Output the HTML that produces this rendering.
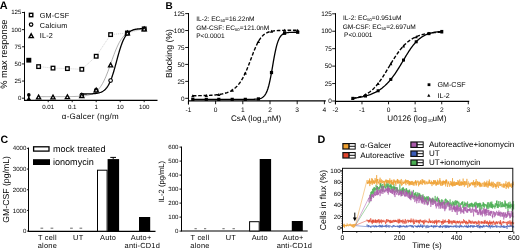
<!DOCTYPE html>
<html><head><meta charset="utf-8"><style>
html,body{margin:0;padding:0;background:#fff;}
svg{display:block;font-family:'Liberation Sans',sans-serif;will-change:transform;text-rendering:geometricPrecision;}
</style></head><body>
<svg width="520" height="250" viewBox="0 0 520 250">
<rect width="520" height="250" fill="#fff"/>
<text x="-0.30" y="9.00" font-size="10.9" text-anchor="start" font-weight="bold" fill="#000" >A</text>
<line x1="24.50" y1="11.80" x2="24.50" y2="101.00" stroke="#000" stroke-width="1.0" />
<line x1="22.00" y1="98.20" x2="24.50" y2="98.20" stroke="#000" stroke-width="0.9" />
<text x="21.40" y="100.10" font-size="6.1" text-anchor="end" font-weight="normal" fill="#000" >0</text>
<line x1="22.00" y1="81.06" x2="24.50" y2="81.06" stroke="#000" stroke-width="0.9" />
<text x="21.40" y="82.96" font-size="6.1" text-anchor="end" font-weight="normal" fill="#000" >25</text>
<line x1="22.00" y1="63.92" x2="24.50" y2="63.92" stroke="#000" stroke-width="0.9" />
<text x="21.40" y="65.82" font-size="6.1" text-anchor="end" font-weight="normal" fill="#000" >50</text>
<line x1="22.00" y1="46.78" x2="24.50" y2="46.78" stroke="#000" stroke-width="0.9" />
<text x="21.40" y="48.68" font-size="6.1" text-anchor="end" font-weight="normal" fill="#000" >75</text>
<line x1="22.00" y1="29.64" x2="24.50" y2="29.64" stroke="#000" stroke-width="0.9" />
<text x="21.40" y="31.54" font-size="6.1" text-anchor="end" font-weight="normal" fill="#000" >100</text>
<line x1="22.00" y1="12.50" x2="24.50" y2="12.50" stroke="#000" stroke-width="0.9" />
<text x="21.40" y="14.40" font-size="6.1" text-anchor="end" font-weight="normal" fill="#000" >125</text>
<line x1="24.00" y1="100.40" x2="157.50" y2="100.40" stroke="#000" stroke-width="1.2" />
<line x1="48.20" y1="100.00" x2="48.20" y2="102.20" stroke="#000" stroke-width="0.9" />
<text x="48.20" y="109.30" font-size="6.2" text-anchor="middle" font-weight="normal" fill="#000" >0.01</text>
<line x1="72.20" y1="100.00" x2="72.20" y2="102.20" stroke="#000" stroke-width="0.9" />
<text x="72.20" y="109.30" font-size="6.2" text-anchor="middle" font-weight="normal" fill="#000" >0.1</text>
<line x1="96.20" y1="100.00" x2="96.20" y2="102.20" stroke="#000" stroke-width="0.9" />
<text x="96.20" y="109.30" font-size="6.2" text-anchor="middle" font-weight="normal" fill="#000" >1</text>
<line x1="120.20" y1="100.00" x2="120.20" y2="102.20" stroke="#000" stroke-width="0.9" />
<text x="120.20" y="109.30" font-size="6.2" text-anchor="middle" font-weight="normal" fill="#000" >10</text>
<line x1="144.20" y1="100.00" x2="144.20" y2="102.20" stroke="#000" stroke-width="0.9" />
<text x="144.20" y="109.30" font-size="6.2" text-anchor="middle" font-weight="normal" fill="#000" >100</text>
<text x="61.80" y="119.20" font-size="8.0" text-anchor="start" font-weight="normal" fill="#000" letter-spacing="0.25">α-Galcer (ng/m</text>
<text x="0" y="0" font-size="9.3" text-anchor="middle" font-weight="normal" transform="translate(7.00,54.10) rotate(-90)">% max response</text>
<rect x="29.40" y="13.30" width="3.4" height="3.4" fill="#fff" stroke="#000" stroke-width="1.4"/>
<circle cx="31.10" cy="24.60" r="1.75" fill="#fff" stroke="#000" stroke-width="1.2"/>
<polygon points="31.20,33.81 33.30,37.59 29.10,37.59" fill="#fff" stroke="#000" stroke-width="1.4" stroke-linejoin="miter"/>
<text x="39.80" y="17.50" font-size="7.3" text-anchor="start" font-weight="normal" fill="#000" letter-spacing="0.12">GM-CSF</text>
<text x="39.80" y="27.60" font-size="7.3" text-anchor="start" font-weight="normal" fill="#000" letter-spacing="0.18">Calcium</text>
<text x="39.80" y="38.00" font-size="7.3" text-anchor="start" font-weight="normal" fill="#000" letter-spacing="0.15">IL-2</text>
<polyline points="38.60,66.60 53.00,68.10 67.40,68.60 81.80,69.30 96.20,56.25 110.60,34.60 127.40,33.00 144.20,28.90" fill="none" stroke="#c8c8c8" stroke-width="0.7" stroke-dasharray="1.2,0.8"/>
<path d="M38.60,96.63 L39.49,96.63 L40.37,96.63 L41.26,96.63 L42.15,96.63 L43.04,96.63 L43.92,96.63 L44.81,96.63 L45.70,96.63 L46.59,96.63 L47.47,96.63 L48.36,96.63 L49.25,96.63 L50.14,96.63 L51.02,96.63 L51.91,96.63 L52.80,96.63 L53.69,96.63 L54.57,96.62 L55.46,96.62 L56.35,96.62 L57.24,96.62 L58.12,96.62 L59.01,96.62 L59.90,96.62 L60.78,96.62 L61.67,96.61 L62.56,96.61 L63.45,96.61 L64.33,96.60 L65.22,96.60 L66.11,96.59 L67.00,96.59 L67.88,96.58 L68.77,96.57 L69.66,96.56 L70.55,96.55 L71.43,96.54 L72.32,96.53 L73.21,96.51 L74.10,96.49 L74.98,96.47 L75.87,96.44 L76.76,96.41 L77.65,96.38 L78.53,96.34 L79.42,96.29 L80.31,96.24 L81.19,96.18 L82.08,96.11 L82.97,96.02 L83.86,95.93 L84.74,95.81 L85.63,95.68 L86.52,95.54 L87.41,95.36 L88.29,95.16 L89.18,94.94 L90.07,94.67 L90.96,94.37 L91.84,94.02 L92.73,93.62 L93.62,93.16 L94.51,92.64 L95.39,92.04 L96.28,91.37 L97.17,90.60 L98.06,89.73 L98.94,88.75 L99.83,87.66 L100.72,86.44 L101.61,85.08 L102.49,83.59 L103.38,81.95 L104.27,80.17 L105.15,78.25 L106.04,76.19 L106.93,74.01 L107.82,71.72 L108.70,69.33 L109.59,66.88 L110.48,64.38 L111.37,61.87 L112.25,59.36 L113.14,56.89 L114.03,54.49 L114.92,52.17 L115.80,49.95 L116.69,47.86 L117.58,45.90 L118.47,44.08 L119.35,42.40 L120.24,40.86 L121.13,39.47 L122.02,38.21 L122.90,37.08 L123.79,36.07 L124.68,35.17 L125.56,34.37 L126.45,33.67 L127.34,33.05 L128.23,32.51 L129.11,32.03 L130.00,31.62 L130.89,31.26 L131.78,30.94 L132.66,30.67 L133.55,30.43 L134.44,30.22 L135.33,30.04 L136.21,29.89 L137.10,29.75 L137.99,29.64 L138.88,29.53 L139.76,29.45 L140.65,29.37 L141.54,29.31 L142.43,29.25 L143.31,29.20 L144.20,29.16" fill="none" stroke="#999" stroke-width="0.8"/>
<path d="M81.80,94.02 L82.32,94.02 L82.85,94.02 L83.37,94.01 L83.90,94.01 L84.42,94.00 L84.95,94.00 L85.47,93.99 L85.99,93.99 L86.52,93.98 L87.04,93.97 L87.57,93.96 L88.09,93.95 L88.62,93.93 L89.14,93.92 L89.67,93.90 L90.19,93.88 L90.71,93.86 L91.24,93.84 L91.76,93.81 L92.29,93.78 L92.81,93.75 L93.34,93.71 L93.86,93.67 L94.38,93.62 L94.91,93.57 L95.43,93.50 L95.96,93.44 L96.48,93.36 L97.01,93.27 L97.53,93.18 L98.06,93.07 L98.58,92.95 L99.10,92.81 L99.63,92.66 L100.15,92.49 L100.68,92.30 L101.20,92.08 L101.73,91.84 L102.25,91.58 L102.77,91.28 L103.30,90.94 L103.82,90.57 L104.35,90.16 L104.87,89.70 L105.40,89.20 L105.92,88.64 L106.45,88.02 L106.97,87.34 L107.49,86.59 L108.02,85.76 L108.54,84.87 L109.07,83.89 L109.59,82.83 L110.12,81.68 L110.64,80.45 L111.16,79.12 L111.69,77.71 L112.21,76.21 L112.74,74.63 L113.26,72.97 L113.79,71.24 L114.31,69.44 L114.84,67.59 L115.36,65.70 L115.88,63.77 L116.41,61.83 L116.93,59.88 L117.46,57.95 L117.98,56.03 L118.51,54.16 L119.03,52.32 L119.55,50.55 L120.08,48.85 L120.60,47.21 L121.13,45.66 L121.65,44.20 L122.18,42.82 L122.70,41.53 L123.23,40.33 L123.75,39.21 L124.27,38.19 L124.80,37.24 L125.32,36.37 L125.85,35.58 L126.37,34.86 L126.90,34.20 L127.42,33.60 L127.94,33.06 L128.47,32.57 L128.99,32.13 L129.52,31.74 L130.04,31.38 L130.57,31.06 L131.09,30.78 L131.62,30.52 L132.14,30.29 L132.66,30.09 L133.19,29.90 L133.71,29.74 L134.24,29.59 L134.76,29.46 L135.29,29.35 L135.81,29.24 L136.33,29.15 L136.86,29.07 L137.38,29.00 L137.91,28.93 L138.43,28.87 L138.96,28.82 L139.48,28.78 L140.01,28.74 L140.53,28.70 L141.05,28.67 L141.58,28.64 L142.10,28.61 L142.63,28.59 L143.15,28.57 L143.68,28.55 L144.20,28.54" fill="none" stroke="#000" stroke-width="1.3"/>
<rect x="26.30" y="57.80" width="5.00" height="4.80" fill="#000" stroke="none" stroke-width="0"/>
<rect x="36.80" y="64.80" width="3.6" height="3.6" fill="#fff" stroke="#000" stroke-width="1.3"/>
<rect x="51.20" y="66.30" width="3.6" height="3.6" fill="#fff" stroke="#000" stroke-width="1.3"/>
<rect x="65.60" y="66.80" width="3.6" height="3.6" fill="#fff" stroke="#000" stroke-width="1.3"/>
<rect x="80.00" y="67.50" width="3.6" height="3.6" fill="#fff" stroke="#000" stroke-width="1.3"/>
<rect x="94.40" y="54.45" width="3.6" height="3.6" fill="#fff" stroke="#000" stroke-width="1.3"/>
<rect x="108.80" y="32.80" width="3.6" height="3.6" fill="#fff" stroke="#000" stroke-width="1.3"/>
<rect x="125.60" y="31.20" width="3.6" height="3.6" fill="#fff" stroke="#000" stroke-width="1.3"/>
<rect x="142.40" y="27.10" width="3.6" height="3.6" fill="#fff" stroke="#000" stroke-width="1.3"/>
<circle cx="28.8" cy="94.9" r="1.8" fill="#000"/>
<line x1="28.80" y1="94.90" x2="28.80" y2="99.50" stroke="#000" stroke-width="1.2" />
<polygon points="26.6,99.9 28.8,96.6 31.0,99.9" fill="#000"/>
<polygon points="38.60,95.11 40.70,98.89 36.50,98.89" fill="#fff" stroke="#000" stroke-width="1.3" stroke-linejoin="miter"/>
<polygon points="53.00,95.11 55.10,98.89 50.90,98.89" fill="#fff" stroke="#000" stroke-width="1.3" stroke-linejoin="miter"/>
<polygon points="67.40,94.91 69.50,98.69 65.30,98.69" fill="#fff" stroke="#000" stroke-width="1.3" stroke-linejoin="miter"/>
<circle cx="81.80" cy="95.00" r="1.8" fill="#fff" stroke="#000" stroke-width="1.1"/>
<polygon points="81.80,93.71 83.90,97.49 79.70,97.49" fill="#fff" stroke="#000" stroke-width="1.3" stroke-linejoin="miter"/>
<circle cx="96.20" cy="90.40" r="1.8" fill="#fff" stroke="#000" stroke-width="1.1"/>
<polygon points="96.20,88.11 98.30,91.89 94.10,91.89" fill="#fff" stroke="#000" stroke-width="1.3" stroke-linejoin="miter"/>
<circle cx="110.60" cy="80.60" r="1.8" fill="#fff" stroke="#000" stroke-width="1.1"/>
<polygon points="110.60,63.11 112.70,66.89 108.50,66.89" fill="#fff" stroke="#000" stroke-width="1.3" stroke-linejoin="miter"/>
<circle cx="127.40" cy="33.20" r="1.8" fill="#fff" stroke="#000" stroke-width="1.1"/>
<polygon points="127.40,31.11 129.50,34.89 125.30,34.89" fill="#fff" stroke="#000" stroke-width="1.3" stroke-linejoin="miter"/>
<circle cx="144.20" cy="29.00" r="1.8" fill="#fff" stroke="#000" stroke-width="1.1"/>
<polygon points="144.20,27.11 146.30,30.89 142.10,30.89" fill="#fff" stroke="#000" stroke-width="1.3" stroke-linejoin="miter"/>
<text x="165.60" y="9.10" font-size="10.0" text-anchor="start" font-weight="bold" fill="#000" >B</text>
<line x1="188.50" y1="13.00" x2="188.50" y2="104.50" stroke="#000" stroke-width="1.0" />
<line x1="185.20" y1="98.30" x2="188.50" y2="98.30" stroke="#000" stroke-width="0.9" />
<text x="184.50" y="100.50" font-size="6.4" text-anchor="end" font-weight="normal" fill="#000" >0</text>
<line x1="185.20" y1="81.36" x2="188.50" y2="81.36" stroke="#000" stroke-width="0.9" />
<text x="184.50" y="83.56" font-size="6.4" text-anchor="end" font-weight="normal" fill="#000" >25</text>
<line x1="185.20" y1="64.42" x2="188.50" y2="64.42" stroke="#000" stroke-width="0.9" />
<text x="184.50" y="66.62" font-size="6.4" text-anchor="end" font-weight="normal" fill="#000" >50</text>
<line x1="185.20" y1="47.48" x2="188.50" y2="47.48" stroke="#000" stroke-width="0.9" />
<text x="184.50" y="49.68" font-size="6.4" text-anchor="end" font-weight="normal" fill="#000" >75</text>
<line x1="185.20" y1="30.54" x2="188.50" y2="30.54" stroke="#000" stroke-width="0.9" />
<text x="184.50" y="32.74" font-size="6.4" text-anchor="end" font-weight="normal" fill="#000" >100</text>
<line x1="185.20" y1="13.60" x2="188.50" y2="13.60" stroke="#000" stroke-width="0.9" />
<text x="184.50" y="15.80" font-size="6.4" text-anchor="end" font-weight="normal" fill="#000" >125</text>
<line x1="188.50" y1="100.80" x2="325.80" y2="100.80" stroke="#000" stroke-width="1.2" />
<line x1="188.40" y1="100.80" x2="188.40" y2="104.20" stroke="#000" stroke-width="0.9" />
<text x="188.40" y="112.00" font-size="6.6" text-anchor="middle" font-weight="normal" fill="#000" >-1</text>
<line x1="215.60" y1="100.80" x2="215.60" y2="104.20" stroke="#000" stroke-width="0.9" />
<text x="215.60" y="112.00" font-size="6.6" text-anchor="middle" font-weight="normal" fill="#000" >0</text>
<line x1="242.80" y1="100.80" x2="242.80" y2="104.20" stroke="#000" stroke-width="0.9" />
<text x="242.80" y="112.00" font-size="6.6" text-anchor="middle" font-weight="normal" fill="#000" >1</text>
<line x1="270.00" y1="100.80" x2="270.00" y2="104.20" stroke="#000" stroke-width="0.9" />
<text x="270.00" y="112.00" font-size="6.6" text-anchor="middle" font-weight="normal" fill="#000" >2</text>
<line x1="297.20" y1="100.80" x2="297.20" y2="104.20" stroke="#000" stroke-width="0.9" />
<text x="297.20" y="112.00" font-size="6.6" text-anchor="middle" font-weight="normal" fill="#000" >3</text>
<line x1="324.40" y1="100.80" x2="324.40" y2="104.20" stroke="#000" stroke-width="0.9" />
<text x="324.40" y="112.00" font-size="6.6" text-anchor="middle" font-weight="normal" fill="#000" >4</text>
<text x="231.0" y="121.2" font-size="8.1">CsA (log<tspan font-size="4.4" dy="1.4" dx="0.8">10</tspan><tspan dy="-1.4">nM)</tspan></text>
<text x="0" y="0" font-size="8.7" text-anchor="middle" font-weight="normal" transform="translate(172.40,53.50) rotate(-90)">Blocking (%)</text>
<text x="196.2" y="20.6" font-size="6.6">IL-2: EC<tspan font-size="4.2" dy="1">50</tspan><tspan dy="-1">=16.22nM</tspan></text>
<text x="196.2" y="29.5" font-size="6.6">GM-CSF: EC<tspan font-size="4.2" dy="1">50</tspan><tspan dy="-1">=121.0nM</tspan></text>
<text x="196.2" y="37.7" font-size="6.6">P&lt;0.0001</text>
<path d="M192.80,95.73 L193.46,95.73 L194.12,95.72 L194.78,95.72 L195.44,95.71 L196.10,95.70 L196.76,95.70 L197.42,95.69 L198.08,95.68 L198.74,95.67 L199.40,95.66 L200.06,95.65 L200.72,95.64 L201.38,95.62 L202.04,95.61 L202.70,95.59 L203.36,95.58 L204.02,95.56 L204.68,95.54 L205.34,95.52 L205.99,95.50 L206.65,95.48 L207.31,95.45 L207.97,95.42 L208.63,95.40 L209.29,95.36 L209.95,95.33 L210.61,95.29 L211.27,95.26 L211.93,95.21 L212.59,95.17 L213.25,95.12 L213.91,95.07 L214.57,95.01 L215.23,94.95 L215.89,94.88 L216.55,94.81 L217.21,94.74 L217.87,94.66 L218.53,94.57 L219.19,94.47 L219.85,94.37 L220.51,94.26 L221.17,94.14 L221.83,94.02 L222.49,93.88 L223.15,93.73 L223.81,93.57 L224.47,93.40 L225.13,93.22 L225.79,93.02 L226.45,92.81 L227.11,92.58 L227.77,92.33 L228.43,92.07 L229.09,91.78 L229.75,91.48 L230.41,91.15 L231.07,90.79 L231.73,90.41 L232.38,90.00 L233.04,89.57 L233.70,89.10 L234.36,88.59 L235.02,88.05 L235.68,87.47 L236.34,86.84 L237.00,86.18 L237.66,85.47 L238.32,84.70 L238.98,83.89 L239.64,83.02 L240.30,82.10 L240.96,81.12 L241.62,80.07 L242.28,78.96 L242.94,77.79 L243.60,76.56 L244.26,75.26 L244.92,73.90 L245.58,72.47 L246.24,70.98 L246.90,69.43 L247.56,67.83 L248.22,66.19 L248.88,64.50 L249.54,62.78 L250.20,61.03 L250.86,59.27 L251.52,57.51 L252.18,55.75 L252.84,54.02 L253.50,52.31 L254.16,50.65 L254.82,49.04 L255.48,47.49 L256.14,46.01 L256.80,44.61 L257.46,43.29 L258.12,42.05 L258.77,40.89 L259.43,39.82 L260.09,38.84 L260.75,37.93 L261.41,37.11 L262.07,36.36 L262.73,35.68 L263.39,35.07 L264.05,34.53 L264.71,34.04 L265.37,33.60 L266.03,33.21 L266.69,32.86 L267.35,32.55 L268.01,32.27 L268.67,32.03 L269.33,31.82 L269.99,31.63 L270.65,31.46 L271.31,31.32 L271.97,31.19 L272.63,31.07 L273.29,30.98 L273.95,30.89 L274.61,30.81 L275.27,30.74 L275.93,30.68 L276.59,30.63 L277.25,30.59 L277.91,30.55 L278.57,30.51 L279.23,30.48 L279.89,30.45 L280.55,30.43 L281.21,30.41 L281.87,30.39 L282.53,30.38 L283.19,30.36 L283.85,30.35 L284.51,30.34 L285.16,30.33 L285.82,30.32 L286.48,30.32 L287.14,30.31 L287.80,30.30 L288.46,30.30 L289.12,30.30 L289.78,30.29 L290.44,30.29 L291.10,30.29 L291.76,30.28 L292.42,30.28 L293.08,30.28 L293.74,30.28 L294.40,30.28 L295.06,30.28 L295.72,30.27 L296.38,30.27 L297.04,30.27 L297.70,30.27" fill="none" stroke="#000" stroke-width="1.4" stroke-dasharray="3.6,1.8"/>
<path d="M192.80,99.37 L193.46,99.37 L194.12,99.37 L194.78,99.37 L195.44,99.37 L196.10,99.37 L196.76,99.37 L197.42,99.37 L198.08,99.37 L198.74,99.37 L199.40,99.37 L200.06,99.37 L200.72,99.37 L201.38,99.37 L202.04,99.37 L202.70,99.37 L203.36,99.37 L204.02,99.37 L204.68,99.37 L205.34,99.37 L205.99,99.37 L206.65,99.37 L207.31,99.37 L207.97,99.37 L208.63,99.37 L209.29,99.37 L209.95,99.37 L210.61,99.37 L211.27,99.37 L211.93,99.37 L212.59,99.37 L213.25,99.37 L213.91,99.37 L214.57,99.37 L215.23,99.37 L215.89,99.37 L216.55,99.37 L217.21,99.37 L217.87,99.37 L218.53,99.37 L219.19,99.37 L219.85,99.37 L220.51,99.37 L221.17,99.37 L221.83,99.37 L222.49,99.37 L223.15,99.37 L223.81,99.37 L224.47,99.37 L225.13,99.37 L225.79,99.37 L226.45,99.37 L227.11,99.37 L227.77,99.37 L228.43,99.37 L229.09,99.37 L229.75,99.37 L230.41,99.37 L231.07,99.37 L231.73,99.37 L232.38,99.37 L233.04,99.37 L233.70,99.37 L234.36,99.37 L235.02,99.37 L235.68,99.37 L236.34,99.37 L237.00,99.37 L237.66,99.37 L238.32,99.37 L238.98,99.37 L239.64,99.37 L240.30,99.37 L240.96,99.37 L241.62,99.37 L242.28,99.37 L242.94,99.37 L243.60,99.37 L244.26,99.37 L244.92,99.37 L245.58,99.36 L246.24,99.36 L246.90,99.36 L247.56,99.36 L248.22,99.36 L248.88,99.35 L249.54,99.35 L250.20,99.34 L250.86,99.34 L251.52,99.33 L252.18,99.32 L252.84,99.30 L253.50,99.28 L254.16,99.26 L254.82,99.23 L255.48,99.20 L256.14,99.16 L256.80,99.10 L257.46,99.03 L258.12,98.94 L258.77,98.84 L259.43,98.70 L260.09,98.53 L260.75,98.32 L261.41,98.05 L262.07,97.72 L262.73,97.30 L263.39,96.79 L264.05,96.16 L264.71,95.38 L265.37,94.43 L266.03,93.28 L266.69,91.89 L267.35,90.22 L268.01,88.26 L268.67,85.97 L269.33,83.34 L269.99,80.38 L270.65,77.11 L271.31,73.58 L271.97,69.86 L272.63,66.04 L273.29,62.20 L273.95,58.47 L274.61,54.91 L275.27,51.61 L275.93,48.61 L276.59,45.94 L277.25,43.61 L277.91,41.60 L278.57,39.90 L279.23,38.48 L279.89,37.30 L280.55,36.32 L281.21,35.53 L281.87,34.88 L282.53,34.35 L283.19,33.93 L283.85,33.59 L284.51,33.31 L285.16,33.10 L285.82,32.92 L286.48,32.78 L287.14,32.67 L287.80,32.58 L288.46,32.51 L289.12,32.45 L289.78,32.41 L290.44,32.37 L291.10,32.34 L291.76,32.32 L292.42,32.30 L293.08,32.29 L293.74,32.27 L294.40,32.27 L295.06,32.26 L295.72,32.25 L296.38,32.25 L297.04,32.24 L297.70,32.24" fill="none" stroke="#000" stroke-width="1.3"/>
<rect x="191.20" y="97.77" width="3.20" height="3.20" fill="#000" stroke="none" stroke-width="0"/>
<polygon points="192.80,94.20 194.50,97.26 191.10,97.26" fill="#000"/>
<rect x="204.70" y="97.77" width="3.20" height="3.20" fill="#000" stroke="none" stroke-width="0"/>
<polygon points="206.30,93.96 208.00,97.02 204.60,97.02" fill="#000"/>
<rect x="217.20" y="97.77" width="3.20" height="3.20" fill="#000" stroke="none" stroke-width="0"/>
<polygon points="218.80,93.00 220.50,96.06 217.10,96.06" fill="#000"/>
<rect x="230.60" y="97.77" width="3.20" height="3.20" fill="#000" stroke="none" stroke-width="0"/>
<polygon points="232.20,88.59 233.90,91.65 230.50,91.65" fill="#000"/>
<rect x="243.70" y="97.76" width="3.20" height="3.20" fill="#000" stroke="none" stroke-width="0"/>
<polygon points="245.30,71.55 247.00,74.61 243.60,74.61" fill="#000"/>
<rect x="256.80" y="97.30" width="3.20" height="3.20" fill="#000" stroke="none" stroke-width="0"/>
<polygon points="258.40,40.01 260.10,43.07 256.70,43.07" fill="#000"/>
<rect x="269.90" y="70.93" width="3.20" height="3.20" fill="#000" stroke="none" stroke-width="0"/>
<polygon points="271.50,29.75 273.20,32.81 269.80,32.81" fill="#000"/>
<rect x="283.00" y="31.68" width="3.20" height="3.20" fill="#000" stroke="none" stroke-width="0"/>
<polygon points="284.60,28.81 286.30,31.87 282.90,31.87" fill="#000"/>
<rect x="296.10" y="30.64" width="3.20" height="3.20" fill="#000" stroke="none" stroke-width="0"/>
<polygon points="297.70,28.74 299.40,31.80 296.00,31.80" fill="#000"/>
<line x1="335.50" y1="13.20" x2="335.50" y2="104.30" stroke="#000" stroke-width="1.0" />
<line x1="332.20" y1="101.00" x2="335.50" y2="101.00" stroke="#000" stroke-width="0.9" />
<text x="331.80" y="103.20" font-size="6.4" text-anchor="end" font-weight="normal" fill="#000" >0</text>
<line x1="332.20" y1="83.56" x2="335.50" y2="83.56" stroke="#000" stroke-width="0.9" />
<text x="331.80" y="85.76" font-size="6.4" text-anchor="end" font-weight="normal" fill="#000" >25</text>
<line x1="332.20" y1="66.12" x2="335.50" y2="66.12" stroke="#000" stroke-width="0.9" />
<text x="331.80" y="68.32" font-size="6.4" text-anchor="end" font-weight="normal" fill="#000" >50</text>
<line x1="332.20" y1="48.68" x2="335.50" y2="48.68" stroke="#000" stroke-width="0.9" />
<text x="331.80" y="50.88" font-size="6.4" text-anchor="end" font-weight="normal" fill="#000" >75</text>
<line x1="332.20" y1="31.24" x2="335.50" y2="31.24" stroke="#000" stroke-width="0.9" />
<text x="331.80" y="33.44" font-size="6.4" text-anchor="end" font-weight="normal" fill="#000" >100</text>
<line x1="332.20" y1="13.80" x2="335.50" y2="13.80" stroke="#000" stroke-width="0.9" />
<text x="331.80" y="16.00" font-size="6.4" text-anchor="end" font-weight="normal" fill="#000" >125</text>
<line x1="335.50" y1="101.40" x2="469.20" y2="101.40" stroke="#000" stroke-width="1.1" />
<line x1="335.40" y1="101.20" x2="335.40" y2="104.30" stroke="#000" stroke-width="0.9" />
<text x="335.40" y="112.00" font-size="6.6" text-anchor="middle" font-weight="normal" fill="#000" >-2</text>
<line x1="361.98" y1="101.20" x2="361.98" y2="104.30" stroke="#000" stroke-width="0.9" />
<text x="361.98" y="112.00" font-size="6.6" text-anchor="middle" font-weight="normal" fill="#000" >-1</text>
<line x1="388.56" y1="101.20" x2="388.56" y2="104.30" stroke="#000" stroke-width="0.9" />
<text x="388.56" y="112.00" font-size="6.6" text-anchor="middle" font-weight="normal" fill="#000" >0</text>
<line x1="415.14" y1="101.20" x2="415.14" y2="104.30" stroke="#000" stroke-width="0.9" />
<text x="415.14" y="112.00" font-size="6.6" text-anchor="middle" font-weight="normal" fill="#000" >1</text>
<line x1="441.72" y1="101.20" x2="441.72" y2="104.30" stroke="#000" stroke-width="0.9" />
<text x="441.72" y="112.00" font-size="6.6" text-anchor="middle" font-weight="normal" fill="#000" >2</text>
<line x1="468.30" y1="101.20" x2="468.30" y2="104.30" stroke="#000" stroke-width="0.9" />
<text x="468.30" y="112.00" font-size="6.6" text-anchor="middle" font-weight="normal" fill="#000" >3</text>
<text x="387.3" y="121.0" font-size="8.1">U0126 (log<tspan font-size="4.4" dy="1.4" dx="0.8">10</tspan><tspan dy="-1.4">uM)</tspan></text>
<text x="343.0" y="20.4" font-size="6.6">IL-2: EC<tspan font-size="4.2" dy="1">50</tspan><tspan dy="-1">=0.951uM</tspan></text>
<text x="342.7" y="28.6" font-size="6.6">GM-CSF: EC<tspan font-size="4.2" dy="1">50</tspan><tspan dy="-1">=2.697uM</tspan></text>
<text x="344.1" y="36.5" font-size="6.6">P&lt;0.0001</text>
<path d="M352.80,98.39 L353.36,98.30 L353.92,98.21 L354.48,98.12 L355.04,98.02 L355.60,97.91 L356.16,97.80 L356.72,97.68 L357.28,97.55 L357.84,97.41 L358.40,97.27 L358.96,97.12 L359.52,96.96 L360.08,96.79 L360.64,96.61 L361.20,96.42 L361.76,96.22 L362.32,96.01 L362.88,95.79 L363.44,95.55 L363.99,95.31 L364.55,95.05 L365.11,94.77 L365.67,94.48 L366.23,94.18 L366.79,93.86 L367.35,93.53 L367.91,93.18 L368.47,92.81 L369.03,92.43 L369.59,92.03 L370.15,91.61 L370.71,91.17 L371.27,90.71 L371.83,90.24 L372.39,89.74 L372.95,89.23 L373.51,88.69 L374.07,88.13 L374.63,87.56 L375.19,86.96 L375.75,86.34 L376.31,85.70 L376.87,85.04 L377.43,84.36 L377.99,83.66 L378.55,82.94 L379.11,82.20 L379.67,81.44 L380.23,80.66 L380.79,79.87 L381.35,79.06 L381.91,78.23 L382.47,77.39 L383.03,76.53 L383.59,75.66 L384.15,74.78 L384.71,73.89 L385.27,72.99 L385.83,72.07 L386.38,71.16 L386.94,70.23 L387.50,69.30 L388.06,68.37 L388.62,67.43 L389.18,66.50 L389.74,65.57 L390.30,64.63 L390.86,63.71 L391.42,62.78 L391.98,61.87 L392.54,60.96 L393.10,60.06 L393.66,59.16 L394.22,58.28 L394.78,57.42 L395.34,56.56 L395.90,55.72 L396.46,54.89 L397.02,54.08 L397.58,53.28 L398.14,52.50 L398.70,51.74 L399.26,50.99 L399.82,50.26 L400.38,49.55 L400.94,48.86 L401.50,48.19 L402.06,47.53 L402.62,46.90 L403.18,46.28 L403.74,45.68 L404.30,45.11 L404.86,44.54 L405.42,44.00 L405.98,43.48 L406.54,42.97 L407.10,42.48 L407.66,42.01 L408.22,41.56 L408.77,41.12 L409.33,40.70 L409.89,40.30 L410.45,39.91 L411.01,39.53 L411.57,39.18 L412.13,38.83 L412.69,38.50 L413.25,38.18 L413.81,37.88 L414.37,37.59 L414.93,37.31 L415.49,37.04 L416.05,36.79 L416.61,36.54 L417.17,36.31 L417.73,36.08 L418.29,35.87 L418.85,35.66 L419.41,35.47 L419.97,35.28 L420.53,35.10 L421.09,34.93 L421.65,34.77 L422.21,34.62 L422.77,34.47 L423.33,34.33 L423.89,34.19 L424.45,34.07 L425.01,33.94 L425.57,33.83 L426.13,33.72 L426.69,33.61 L427.25,33.51 L427.81,33.41 L428.37,33.32 L428.93,33.23 L429.49,33.15 L430.05,33.07 L430.61,33.00 L431.16,32.93 L431.72,32.86 L432.28,32.79 L432.84,32.73 L433.40,32.67 L433.96,32.62 L434.52,32.56 L435.08,32.51 L435.64,32.47 L436.20,32.42 L436.76,32.38 L437.32,32.34 L437.88,32.30 L438.44,32.26 L439.00,32.22 L439.56,32.19 L440.12,32.16 L440.68,32.13 L441.24,32.10 L441.80,32.07" fill="none" stroke="#000" stroke-width="1.4" stroke-dasharray="3.6,1.8"/>
<path d="M352.80,98.33 L353.36,98.26 L353.92,98.20 L354.48,98.12 L355.04,98.05 L355.60,97.98 L356.16,97.90 L356.72,97.81 L357.28,97.73 L357.84,97.64 L358.40,97.55 L358.96,97.45 L359.52,97.36 L360.08,97.25 L360.64,97.15 L361.20,97.04 L361.76,96.92 L362.32,96.80 L362.88,96.68 L363.44,96.55 L363.99,96.42 L364.55,96.28 L365.11,96.13 L365.67,95.99 L366.23,95.83 L366.79,95.67 L367.35,95.50 L367.91,95.33 L368.47,95.15 L369.03,94.97 L369.59,94.77 L370.15,94.57 L370.71,94.37 L371.27,94.15 L371.83,93.93 L372.39,93.70 L372.95,93.46 L373.51,93.21 L374.07,92.95 L374.63,92.68 L375.19,92.41 L375.75,92.12 L376.31,91.82 L376.87,91.51 L377.43,91.19 L377.99,90.86 L378.55,90.52 L379.11,90.16 L379.67,89.80 L380.23,89.42 L380.79,89.02 L381.35,88.62 L381.91,88.20 L382.47,87.76 L383.03,87.31 L383.59,86.85 L384.15,86.37 L384.71,85.88 L385.27,85.37 L385.83,84.84 L386.38,84.29 L386.94,83.73 L387.50,83.16 L388.06,82.56 L388.62,81.95 L389.18,81.32 L389.74,80.68 L390.30,80.01 L390.86,79.33 L391.42,78.63 L391.98,77.91 L392.54,77.18 L393.10,76.43 L393.66,75.66 L394.22,74.87 L394.78,74.07 L395.34,73.26 L395.90,72.42 L396.46,71.58 L397.02,70.72 L397.58,69.84 L398.14,68.96 L398.70,68.06 L399.26,67.15 L399.82,66.23 L400.38,65.31 L400.94,64.38 L401.50,63.44 L402.06,62.50 L402.62,61.56 L403.18,60.62 L403.74,59.67 L404.30,58.73 L404.86,57.80 L405.42,56.86 L405.98,55.94 L406.54,55.02 L407.10,54.12 L407.66,53.22 L408.22,52.34 L408.77,51.47 L409.33,50.62 L409.89,49.79 L410.45,48.97 L411.01,48.17 L411.57,47.39 L412.13,46.64 L412.69,45.90 L413.25,45.18 L413.81,44.49 L414.37,43.82 L414.93,43.17 L415.49,42.55 L416.05,41.95 L416.61,41.37 L417.17,40.81 L417.73,40.28 L418.29,39.77 L418.85,39.28 L419.41,38.82 L419.97,38.37 L420.53,37.95 L421.09,37.54 L421.65,37.16 L422.21,36.79 L422.77,36.44 L423.33,36.12 L423.89,35.80 L424.45,35.51 L425.01,35.23 L425.57,34.96 L426.13,34.71 L426.69,34.48 L427.25,34.25 L427.81,34.04 L428.37,33.84 L428.93,33.66 L429.49,33.48 L430.05,33.31 L430.61,33.16 L431.16,33.01 L431.72,32.87 L432.28,32.74 L432.84,32.62 L433.40,32.51 L433.96,32.40 L434.52,32.30 L435.08,32.20 L435.64,32.11 L436.20,32.03 L436.76,31.95 L437.32,31.88 L437.88,31.81 L438.44,31.74 L439.00,31.68 L439.56,31.63 L440.12,31.57 L440.68,31.52 L441.24,31.48 L441.80,31.43" fill="none" stroke="#000" stroke-width="1.3"/>
<rect x="351.30" y="96.83" width="3.00" height="3.00" fill="#000" stroke="none" stroke-width="0"/>
<polygon points="352.80,96.95 354.40,99.83 351.20,99.83" fill="#000"/>
<rect x="364.00" y="94.53" width="3.00" height="3.00" fill="#000" stroke="none" stroke-width="0"/>
<polygon points="365.50,93.14 367.10,96.02 363.90,96.02" fill="#000"/>
<rect x="376.60" y="89.29" width="3.00" height="3.00" fill="#000" stroke="none" stroke-width="0"/>
<polygon points="378.10,82.08 379.70,84.96 376.50,84.96" fill="#000"/>
<rect x="389.30" y="77.91" width="3.00" height="3.00" fill="#000" stroke="none" stroke-width="0"/>
<polygon points="390.80,62.37 392.40,65.25 389.20,65.25" fill="#000"/>
<rect x="402.00" y="58.57" width="3.00" height="3.00" fill="#000" stroke="none" stroke-width="0"/>
<polygon points="403.50,44.50 405.10,47.38 401.90,47.38" fill="#000"/>
<rect x="414.70" y="40.29" width="3.00" height="3.00" fill="#000" stroke="none" stroke-width="0"/>
<polygon points="416.20,35.28 417.80,38.16 414.60,38.16" fill="#000"/>
<rect x="427.40" y="32.16" width="3.00" height="3.00" fill="#000" stroke="none" stroke-width="0"/>
<polygon points="428.90,31.80 430.50,34.68 427.30,34.68" fill="#000"/>
<rect x="440.30" y="29.93" width="3.00" height="3.00" fill="#000" stroke="none" stroke-width="0"/>
<polygon points="441.80,30.63 443.40,33.51 440.20,33.51" fill="#000"/>
<rect x="427.60" y="83.30" width="2.80" height="2.80" fill="#000" stroke="none" stroke-width="0"/>
<polygon points="428.80,93.86 430.40,96.74 427.20,96.74" fill="#000"/>
<text x="437.50" y="87.40" font-size="7.1" text-anchor="start" font-weight="normal" fill="#000" >GM-CSF</text>
<text x="437.50" y="97.90" font-size="7.1" text-anchor="start" font-weight="normal" fill="#000" >IL-2</text>
<text x="0.60" y="143.20" font-size="10.6" text-anchor="start" font-weight="bold" fill="#000" >C</text>
<line x1="28.50" y1="147.60" x2="28.50" y2="231.90" stroke="#000" stroke-width="1.0" />
<line x1="27.00" y1="231.10" x2="28.50" y2="231.10" stroke="#000" stroke-width="0.9" />
<text x="26.40" y="233.20" font-size="6.1" text-anchor="end" font-weight="normal" fill="#000" >0</text>
<line x1="27.00" y1="210.42" x2="28.50" y2="210.42" stroke="#000" stroke-width="0.9" />
<text x="26.40" y="212.52" font-size="6.1" text-anchor="end" font-weight="normal" fill="#000" >1000</text>
<line x1="27.00" y1="189.74" x2="28.50" y2="189.74" stroke="#000" stroke-width="0.9" />
<text x="26.40" y="191.84" font-size="6.1" text-anchor="end" font-weight="normal" fill="#000" >2000</text>
<line x1="27.00" y1="169.06" x2="28.50" y2="169.06" stroke="#000" stroke-width="0.9" />
<text x="26.40" y="171.16" font-size="6.1" text-anchor="end" font-weight="normal" fill="#000" >3000</text>
<line x1="27.00" y1="148.38" x2="28.50" y2="148.38" stroke="#000" stroke-width="0.9" />
<text x="26.40" y="150.48" font-size="6.1" text-anchor="end" font-weight="normal" fill="#000" >4000</text>
<line x1="28.50" y1="231.40" x2="155.50" y2="231.40" stroke="#000" stroke-width="1.1" />
<text x="0" y="0" font-size="8.7" text-anchor="middle" font-weight="normal" transform="translate(8.90,189.40) rotate(-90)">GM-CSF (pg/mL)</text>
<rect x="33.60" y="146.80" width="15.40" height="4.30" fill="#fff" stroke="#000" stroke-width="1.3"/>
<rect x="33.00" y="159.20" width="17.00" height="5.80" fill="#000" stroke="none" stroke-width="0"/>
<text x="52.90" y="152.40" font-size="9.1" text-anchor="start" font-weight="normal" fill="#000" >mock treated</text>
<text x="52.90" y="165.40" font-size="9.1" text-anchor="start" font-weight="normal" fill="#000" >ionomycin</text>
<rect x="97.50" y="170.20" width="9.60" height="61.00" fill="#fff" stroke="#000" stroke-width="1.0"/>
<rect x="107.60" y="159.10" width="11.50" height="72.10" fill="#000" stroke="none" stroke-width="0"/>
<line x1="110.30" y1="157.40" x2="116.00" y2="157.40" stroke="#000" stroke-width="1.0" />
<line x1="113.20" y1="157.20" x2="113.20" y2="159.20" stroke="#000" stroke-width="0.9" />
<rect x="139.00" y="217.00" width="11.20" height="14.20" fill="#000" stroke="none" stroke-width="0"/>
<line x1="40.50" y1="228.20" x2="43.20" y2="228.20" stroke="#444" stroke-width="0.8" />
<line x1="50.60" y1="228.20" x2="53.30" y2="228.20" stroke="#444" stroke-width="0.8" />
<line x1="70.10" y1="228.20" x2="72.80" y2="228.20" stroke="#444" stroke-width="0.8" />
<line x1="79.50" y1="228.20" x2="82.20" y2="228.20" stroke="#444" stroke-width="0.8" />
<text x="47.40" y="240.30" font-size="7.4" text-anchor="middle" font-weight="normal" fill="#000" letter-spacing="0.25">T cell</text>
<text x="47.40" y="247.80" font-size="7.4" text-anchor="middle" font-weight="normal" fill="#000" letter-spacing="0.25">alone</text>
<text x="78.30" y="240.30" font-size="7.4" text-anchor="middle" font-weight="normal" fill="#000" letter-spacing="0.25">UT</text>
<text x="108.10" y="240.30" font-size="7.4" text-anchor="middle" font-weight="normal" fill="#000" letter-spacing="0.25">Auto</text>
<text x="141.10" y="240.30" font-size="7.4" text-anchor="middle" font-weight="normal" fill="#000" letter-spacing="0.25">Auto+</text>
<text x="142.30" y="247.80" font-size="7.4" text-anchor="middle" font-weight="normal" fill="#000" letter-spacing="0.25">anti-CD1d</text>
<line x1="181.50" y1="146.60" x2="181.50" y2="231.50" stroke="#000" stroke-width="1.0" />
<line x1="179.50" y1="231.10" x2="181.50" y2="231.10" stroke="#000" stroke-width="0.9" />
<text x="178.50" y="233.20" font-size="6.1" text-anchor="end" font-weight="normal" fill="#000" >0</text>
<line x1="179.50" y1="217.10" x2="181.50" y2="217.10" stroke="#000" stroke-width="0.9" />
<text x="178.50" y="219.20" font-size="6.1" text-anchor="end" font-weight="normal" fill="#000" >100</text>
<line x1="179.50" y1="203.10" x2="181.50" y2="203.10" stroke="#000" stroke-width="0.9" />
<text x="178.50" y="205.20" font-size="6.1" text-anchor="end" font-weight="normal" fill="#000" >200</text>
<line x1="179.50" y1="189.10" x2="181.50" y2="189.10" stroke="#000" stroke-width="0.9" />
<text x="178.50" y="191.20" font-size="6.1" text-anchor="end" font-weight="normal" fill="#000" >300</text>
<line x1="179.50" y1="175.10" x2="181.50" y2="175.10" stroke="#000" stroke-width="0.9" />
<text x="178.50" y="177.20" font-size="6.1" text-anchor="end" font-weight="normal" fill="#000" >400</text>
<line x1="179.50" y1="161.10" x2="181.50" y2="161.10" stroke="#000" stroke-width="0.9" />
<text x="178.50" y="163.20" font-size="6.1" text-anchor="end" font-weight="normal" fill="#000" >500</text>
<line x1="179.50" y1="147.10" x2="181.50" y2="147.10" stroke="#000" stroke-width="0.9" />
<text x="178.50" y="149.20" font-size="6.1" text-anchor="end" font-weight="normal" fill="#000" >600</text>
<line x1="181.50" y1="231.00" x2="307.70" y2="231.00" stroke="#000" stroke-width="1.1" />
<text x="0" y="0" font-size="7.6" text-anchor="middle" font-weight="normal" transform="translate(164.20,181.60) rotate(-90)">IL-2 (pg/mL)</text>
<rect x="249.60" y="221.70" width="9.60" height="9.30" fill="#fff" stroke="#000" stroke-width="1.0"/>
<rect x="259.70" y="159.00" width="11.40" height="72.00" fill="#000" stroke="none" stroke-width="0"/>
<rect x="291.80" y="221.00" width="11.00" height="10.00" fill="#000" stroke="none" stroke-width="0"/>
<line x1="194.50" y1="228.70" x2="196.80" y2="228.70" stroke="#444" stroke-width="0.8" />
<line x1="204.00" y1="228.70" x2="206.20" y2="228.70" stroke="#444" stroke-width="0.8" />
<line x1="222.40" y1="228.70" x2="224.70" y2="228.70" stroke="#444" stroke-width="0.8" />
<line x1="232.50" y1="228.70" x2="234.90" y2="228.70" stroke="#444" stroke-width="0.8" />
<text x="200.00" y="240.30" font-size="7.4" text-anchor="middle" font-weight="normal" fill="#000" letter-spacing="0.25">T cell</text>
<text x="200.00" y="247.80" font-size="7.4" text-anchor="middle" font-weight="normal" fill="#000" letter-spacing="0.25">alone</text>
<text x="230.90" y="240.30" font-size="7.4" text-anchor="middle" font-weight="normal" fill="#000" letter-spacing="0.25">UT</text>
<text x="259.80" y="240.30" font-size="7.4" text-anchor="middle" font-weight="normal" fill="#000" letter-spacing="0.25">Auto</text>
<text x="293.20" y="240.30" font-size="7.4" text-anchor="middle" font-weight="normal" fill="#000" letter-spacing="0.25">Auto+</text>
<text x="294.40" y="247.80" font-size="7.4" text-anchor="middle" font-weight="normal" fill="#000" letter-spacing="0.25">anti-CD1d</text>
<text x="317.60" y="143.40" font-size="10.8" text-anchor="start" font-weight="bold" fill="#000" >D</text>
<rect x="342.30" y="143.00" width="13.40" height="6.60" fill="#111" stroke="none" stroke-width="0"/>
<rect x="343.50" y="144.20" width="4.80" height="4.20" fill="#efa030" stroke="none" stroke-width="0"/>
<rect x="349.70" y="144.10" width="5.00" height="1.70" fill="#fff" stroke="none" stroke-width="0"/>
<rect x="349.70" y="146.80" width="5.00" height="1.80" fill="#fff" stroke="none" stroke-width="0"/>
<text x="360.20" y="148.40" font-size="8.0" text-anchor="start" font-weight="normal" fill="#000" >α-Galcer</text>
<rect x="342.30" y="152.00" width="13.40" height="6.60" fill="#111" stroke="none" stroke-width="0"/>
<rect x="343.50" y="153.20" width="4.80" height="4.20" fill="#e0442c" stroke="none" stroke-width="0"/>
<rect x="349.70" y="153.10" width="5.00" height="1.70" fill="#fff" stroke="none" stroke-width="0"/>
<rect x="349.70" y="155.80" width="5.00" height="1.80" fill="#fff" stroke="none" stroke-width="0"/>
<text x="360.20" y="157.70" font-size="8.0" text-anchor="start" font-weight="normal" fill="#000" >Autoreactive</text>
<rect x="410.30" y="141.40" width="13.40" height="6.60" fill="#111" stroke="none" stroke-width="0"/>
<rect x="411.50" y="142.60" width="4.80" height="4.20" fill="#a95aaa" stroke="none" stroke-width="0"/>
<rect x="417.70" y="142.50" width="5.00" height="1.70" fill="#fff" stroke="none" stroke-width="0"/>
<rect x="417.70" y="145.20" width="5.00" height="1.80" fill="#fff" stroke="none" stroke-width="0"/>
<text x="429.00" y="147.00" font-size="8.0" text-anchor="start" font-weight="normal" fill="#000" >Autoreactive+ionomycin</text>
<rect x="410.30" y="150.40" width="13.40" height="6.60" fill="#111" stroke="none" stroke-width="0"/>
<rect x="411.50" y="151.60" width="4.80" height="4.20" fill="#3a5cb8" stroke="none" stroke-width="0"/>
<rect x="417.70" y="151.50" width="5.00" height="1.70" fill="#fff" stroke="none" stroke-width="0"/>
<rect x="417.70" y="154.20" width="5.00" height="1.80" fill="#fff" stroke="none" stroke-width="0"/>
<text x="429.00" y="155.90" font-size="8.0" text-anchor="start" font-weight="normal" fill="#000" >UT</text>
<rect x="410.30" y="159.40" width="13.40" height="6.60" fill="#111" stroke="none" stroke-width="0"/>
<rect x="411.50" y="160.60" width="4.80" height="4.20" fill="#48ac50" stroke="none" stroke-width="0"/>
<rect x="417.70" y="160.50" width="5.00" height="1.70" fill="#fff" stroke="none" stroke-width="0"/>
<rect x="417.70" y="163.20" width="5.00" height="1.80" fill="#fff" stroke="none" stroke-width="0"/>
<text x="429.00" y="164.90" font-size="8.0" text-anchor="start" font-weight="normal" fill="#000" >UT+ionomycin</text>
<line x1="355.35" y1="225.62" x2="366.77" y2="226.64" stroke="#3a5cb8" stroke-width="0.5"/>
<polyline points="366.77,226.64 366.94,225.44 367.11,224.44 367.28,226.08 367.45,226.36 367.62,226.81 367.80,226.65 367.97,226.40 368.14,225.37 368.31,227.26 368.48,225.26 368.65,226.17 368.82,225.52 368.99,226.42 369.17,226.24 369.34,226.06 369.51,225.79 369.68,226.80 369.85,226.55 370.02,225.79 370.19,227.34 370.36,227.20 370.54,226.18 370.71,226.55 370.88,227.72 371.05,226.93 371.22,226.66 371.39,226.98 371.56,227.03 371.74,226.10 371.91,225.56 372.08,226.32 372.25,226.71 372.42,226.07 372.59,225.97 372.76,226.21 372.93,225.94 373.11,225.52 373.28,226.74 373.45,226.83 373.62,226.32 373.79,226.15 373.96,225.44 374.13,227.14 374.30,226.60 374.48,227.04 374.65,227.41 374.82,226.21 374.99,225.91 375.16,226.87 375.33,225.28 375.50,225.47 375.68,225.68 375.85,226.49 376.02,225.65 376.19,227.18 376.36,225.84 376.53,226.19 376.70,227.28 376.87,226.07 377.05,226.03 377.22,226.34 377.39,226.57 377.56,226.28 377.73,225.85 377.90,226.69 378.07,226.06 378.24,226.42 378.42,225.83 378.59,226.63 378.76,225.68 378.93,225.52 379.10,226.17 379.27,225.92 379.44,225.44 379.61,224.77 379.79,227.42 379.96,225.39 380.13,225.71 380.30,226.22 380.47,226.83 380.64,225.38 380.81,227.06 380.99,225.87 381.16,225.60 381.33,227.27 381.50,226.39 381.67,227.11 381.84,226.03 382.01,225.31 382.18,224.81 382.36,227.31 382.53,226.95 382.70,225.68 382.87,225.36 383.04,226.32 383.21,227.00 383.38,226.16 383.55,226.27 383.73,226.48 383.90,226.90 384.07,225.89 384.24,226.13 384.41,226.09 384.58,226.54 384.75,227.01 384.93,226.65 385.10,225.29 385.27,226.34 385.44,227.12 385.61,225.72 385.78,225.81 385.95,224.99 386.12,226.12 386.30,226.36 386.47,227.46 386.64,226.05 386.81,224.50 386.98,226.31 387.15,226.41 387.32,225.92 387.49,226.62 387.67,227.00 387.84,226.89 388.01,226.13 388.18,225.57 388.35,226.08 388.52,225.83 388.69,226.57 388.87,225.38 389.04,227.74 389.21,227.25 389.38,225.73 389.55,225.84 389.72,226.09 389.89,225.85 390.06,225.47 390.24,225.80 390.41,225.75 390.58,226.37 390.75,226.71 390.92,226.80 391.09,226.60 391.26,226.96 391.43,226.42 391.61,226.32 391.78,226.17 391.95,226.05 392.12,227.71 392.29,226.76 392.46,225.84 392.63,225.71 392.81,226.13 392.98,226.75 393.15,226.82 393.32,225.06 393.49,225.59 393.66,225.21 393.83,225.16 394.00,226.97 394.18,225.64 394.35,226.03 394.52,225.99 394.69,225.80 394.86,225.80 395.03,226.18 395.20,227.08 395.37,226.52 395.55,226.84 395.72,226.19 395.89,226.73 396.06,226.01 396.23,225.95 396.40,226.21 396.57,225.89 396.74,226.08 396.92,226.85 397.09,226.47 397.26,226.51 397.43,225.82 397.60,226.27 397.77,225.82 397.94,227.29 398.12,225.58 398.29,226.61 398.46,226.81 398.63,226.56 398.80,227.15 398.97,226.06 399.14,226.62 399.31,228.06 399.49,226.84 399.66,225.09 399.83,226.78 400.00,227.28 400.17,226.68 400.34,227.33 400.51,225.20 400.68,227.04 400.86,226.36 401.03,226.12 401.20,226.87 401.37,226.70 401.54,225.79 401.71,226.05 401.88,227.34 402.06,225.80 402.23,226.17 402.40,226.05 402.57,226.35 402.74,225.84 402.91,226.87 403.08,226.28 403.25,226.57 403.43,226.98 403.60,226.23 403.77,225.26 403.94,225.83 404.11,226.41 404.28,225.97 404.45,226.80 404.62,226.23 404.80,226.13 404.97,227.58 405.14,226.11 405.31,227.01 405.48,226.77 405.65,227.24 405.82,227.25 406.00,226.53 406.17,225.90 406.34,225.11 406.51,226.94 406.68,225.79 406.85,226.10 407.02,227.67 407.19,226.22 407.37,225.71 407.54,226.53 407.71,226.13 407.88,225.86 408.05,226.32 408.22,226.89 408.39,226.64 408.56,226.68 408.74,226.65 408.91,225.91 409.08,225.08 409.25,226.39 409.42,226.10 409.59,226.06 409.76,225.94 409.94,225.57 410.11,226.44 410.28,225.87 410.45,224.97 410.62,225.49 410.79,226.47 410.96,226.19 411.13,225.42 411.31,225.95 411.48,226.39 411.65,225.37 411.82,227.34 411.99,226.02 412.16,226.39 412.33,227.14 412.50,225.38 412.68,226.04 412.85,227.00 413.02,225.88 413.19,226.83 413.36,227.93 413.53,226.82 413.70,225.95 413.87,225.86 414.05,226.07 414.22,226.25 414.39,225.88 414.56,225.60 414.73,225.48 414.90,226.01 415.07,225.63 415.25,225.87 415.42,226.84 415.59,227.12 415.76,225.82 415.93,225.79 416.10,226.65 416.27,226.21 416.44,226.88 416.62,226.10 416.79,227.27 416.96,226.00 417.13,227.44 417.30,225.37 417.47,226.36 417.64,227.27 417.81,226.51 417.99,226.53 418.16,226.02 418.33,226.98 418.50,226.21 418.67,224.76 418.84,226.91 419.01,226.08 419.19,226.91 419.36,226.20 419.53,227.47 419.70,227.18 419.87,225.79 420.04,226.50 420.21,225.52 420.38,226.88 420.56,226.30 420.73,224.22 420.90,226.77 421.07,227.18 421.24,226.41 421.41,226.66 421.58,225.71 421.75,226.04 421.93,227.13 422.10,226.21 422.27,224.78 422.44,225.63 422.61,228.01 422.78,225.89 422.95,227.02 423.13,225.94 423.30,226.55 423.47,225.48 423.64,225.71 423.81,225.99 423.98,226.15 424.15,226.26 424.32,226.36 424.50,225.49 424.67,226.17 424.84,226.45 425.01,225.64 425.18,226.15 425.35,226.34 425.52,226.83 425.69,226.87 425.87,226.57 426.04,228.21 426.21,225.57 426.38,226.00 426.55,226.51 426.72,225.59 426.89,226.15 427.07,225.99 427.24,227.97 427.41,226.39 427.58,225.93 427.75,224.93 427.92,225.22 428.09,225.51 428.26,226.29 428.44,227.76 428.61,226.03 428.78,226.25 428.95,225.87 429.12,226.00 429.29,226.10 429.46,227.26 429.63,226.17 429.81,226.48 429.98,225.82 430.15,225.91 430.32,226.13 430.49,226.46 430.66,226.26 430.83,225.64 431.00,226.05 431.18,227.04 431.35,226.73 431.52,225.38 431.69,226.92 431.86,225.37 432.03,225.92 432.20,226.68 432.38,226.73 432.55,226.22 432.72,226.22 432.89,226.23 433.06,227.28 433.23,226.75 433.40,226.40 433.57,225.44 433.75,228.13 433.92,226.16 434.09,226.90 434.26,225.74 434.43,226.83 434.60,226.18 434.77,225.36 434.94,226.27 435.12,226.10 435.29,226.12 435.46,227.27 435.63,225.63 435.80,226.50 435.97,227.12 436.14,225.81 436.32,226.72 436.49,225.79 436.66,226.41 436.83,226.84 437.00,225.49 437.17,225.75 437.34,225.62 437.51,226.12 437.69,226.48 437.86,226.67 438.03,226.48 438.20,225.94 438.37,226.74 438.54,227.14 438.71,226.76 438.88,227.24 439.06,226.26 439.23,226.62 439.40,227.37 439.57,226.04 439.74,226.67 439.91,227.64 440.08,225.84 440.26,225.19 440.43,227.30 440.60,225.14 440.77,227.07 440.94,226.55 441.11,226.53 441.28,226.83 441.45,226.23 441.63,226.40 441.80,226.82 441.97,226.68 442.14,227.40 442.31,226.31 442.48,225.86 442.65,227.90 442.82,226.89 443.00,226.28 443.17,225.58 443.34,225.40 443.51,226.70 443.68,227.00 443.85,226.35 444.02,226.77 444.20,226.75 444.37,225.40 444.54,225.35 444.71,226.48 444.88,226.46 445.05,226.04 445.22,228.11 445.39,225.84 445.57,226.68 445.74,224.98 445.91,225.74 446.08,226.32 446.25,226.45 446.42,227.94 446.59,225.83 446.76,225.38 446.94,227.08 447.11,225.79 447.28,225.96 447.45,227.41 447.62,225.67 447.79,225.45 447.96,225.57 448.13,226.49 448.31,225.84 448.48,227.71 448.65,226.61 448.82,225.85 448.99,227.30 449.16,225.79 449.33,226.81 449.51,227.37 449.68,226.50 449.85,227.08 450.02,225.91 450.19,227.00 450.36,225.59 450.53,226.57 450.70,226.06 450.88,226.87 451.05,226.16 451.22,226.16 451.39,225.99 451.56,226.69 451.73,227.28 451.90,225.67 452.07,225.98 452.25,226.39 452.42,226.08 452.59,226.95 452.76,227.20 452.93,226.96 453.10,226.52 453.27,226.10 453.45,227.33 453.62,225.98 453.79,226.12 453.96,226.08 454.13,225.42 454.30,226.69 454.47,226.24 454.64,226.29 454.82,226.34 454.99,226.03 455.16,227.24 455.33,225.46 455.50,226.98 455.67,226.69 455.84,227.27 456.01,225.87 456.19,224.75 456.36,225.81 456.53,226.00 456.70,227.75 456.87,227.08 457.04,227.24 457.21,227.14 457.39,225.59 457.56,226.56 457.73,226.37 457.90,226.20 458.07,227.17 458.24,227.01 458.41,227.01 458.58,226.12 458.76,226.46 458.93,226.03 459.10,225.44 459.27,228.00 459.44,227.11 459.61,226.30 459.78,227.37 459.95,226.89 460.13,225.11 460.30,225.80 460.47,225.41 460.64,226.35 460.81,227.06 460.98,225.85 461.15,227.00 461.33,226.20 461.50,225.28 461.67,227.06 461.84,227.33 462.01,226.94 462.18,226.15 462.35,226.32 462.52,225.84 462.70,225.93 462.87,227.08 463.04,226.95 463.21,226.14 463.38,226.93 463.55,227.39 463.72,227.14 463.89,227.12 464.07,226.56 464.24,226.90 464.41,226.43 464.58,225.53 464.75,226.31 464.92,225.63 465.09,226.44 465.26,227.23 465.44,226.70 465.61,226.79 465.78,225.95 465.95,226.85 466.12,225.60 466.29,225.69 466.46,227.42 466.64,225.91 466.81,225.29 466.98,227.04 467.15,226.07 467.32,227.55 467.49,226.67 467.66,227.52 467.83,226.08 468.01,227.45 468.18,227.85 468.35,226.35 468.52,224.74 468.69,226.83 468.86,225.86 469.03,226.39 469.20,226.44 469.38,226.14 469.55,226.12 469.72,227.04 469.89,226.01 470.06,226.12 470.23,227.61 470.40,225.57 470.58,225.14 470.75,226.94 470.92,225.26 471.09,226.37 471.26,226.49 471.43,225.70 471.60,226.32 471.77,226.32 471.95,225.36 472.12,225.62 472.29,225.77 472.46,227.26 472.63,227.16 472.80,225.51 472.97,227.45 473.14,226.28 473.32,227.19 473.49,226.85 473.66,227.28 473.83,225.20 474.00,226.95 474.17,226.81 474.34,226.74 474.52,225.59 474.69,226.87 474.86,226.81 475.03,226.90 475.20,226.03 475.37,226.11 475.54,226.58 475.71,226.47 475.89,226.70 476.06,225.99 476.23,226.57 476.40,226.92 476.57,226.96 476.74,226.06 476.91,225.03 477.08,226.82 477.26,226.20 477.43,225.30 477.60,227.56 477.77,227.65 477.94,227.18 478.11,226.58 478.28,224.69 478.46,226.05 478.63,225.62 478.80,226.42 478.97,228.04 479.14,227.92 479.31,226.01 479.48,226.25 479.65,227.39 479.83,225.72 480.00,228.43 480.17,225.78 480.34,225.49 480.51,226.90 480.68,227.15 480.85,226.05 481.02,227.10 481.20,225.84 481.37,227.20 481.54,226.00 481.71,226.62 481.88,226.72 482.05,227.45 482.22,226.00 482.39,227.75 482.57,226.75 482.74,226.74 482.91,226.32 483.08,227.01 483.25,224.80 483.42,226.49 483.59,227.17 483.77,225.20 483.94,225.48 484.11,226.61 484.28,227.24 484.45,226.49 484.62,226.57 484.79,226.60 484.96,225.46 485.14,226.21 485.31,226.33 485.48,226.21 485.65,226.53 485.82,225.93 485.99,226.20 486.16,226.74 486.33,226.33 486.51,225.07 486.68,226.31 486.85,226.43 487.02,225.40 487.19,226.64 487.36,227.00 487.53,226.30 487.71,227.15 487.88,226.49 488.05,226.31 488.22,226.38 488.39,226.84 488.56,227.41 488.73,227.01 488.90,225.43 489.08,227.02 489.25,226.89 489.42,224.81 489.59,227.11 489.76,225.02 489.93,225.58 490.10,226.53 490.27,228.53 490.45,226.14 490.62,225.87 490.79,225.91 490.96,226.78 491.13,225.95 491.30,225.93 491.47,227.20 491.65,225.39 491.82,226.76 491.99,226.89 492.16,226.73 492.33,225.33 492.50,225.85 492.67,227.62 492.84,226.60 493.02,226.42 493.19,226.60 493.36,226.88 493.53,226.96 493.70,225.84 493.87,227.29 494.04,226.23 494.21,226.85 494.39,227.03 494.56,226.15 494.73,226.60 494.90,227.05 495.07,227.20 495.24,226.86 495.41,225.21 495.59,226.38 495.76,226.52 495.93,226.76 496.10,226.69 496.27,226.68 496.44,227.69 496.61,225.46 496.78,226.70 496.96,226.89 497.13,225.56 497.30,226.28 497.47,226.66 497.64,226.85 497.81,227.52 497.98,226.58 498.15,226.28 498.33,226.23 498.50,225.93 498.67,226.96 498.84,227.03 499.01,226.50 499.18,226.03 499.35,225.99 499.52,227.02 499.70,226.96 499.87,227.61 500.04,227.31 500.21,227.09 500.38,227.31 500.55,226.50 500.72,226.83 500.90,227.46 501.07,224.83 501.24,226.88 501.41,226.62 501.58,225.55 501.75,225.77 501.92,227.22 502.09,227.32 502.27,227.10 502.44,226.13 502.61,227.09 502.78,227.14 502.95,226.35 503.12,225.88 503.29,227.48 503.46,226.57 503.64,227.64 503.81,225.22 503.98,225.47 504.15,226.32 504.32,226.48 504.49,226.17 504.66,227.90 504.84,226.41 505.01,227.73 505.18,227.16 505.35,227.20 505.52,226.84 505.69,226.04 505.86,226.13 506.03,226.35 506.21,227.20 506.38,226.06 506.55,226.68 506.72,225.78 506.89,227.82 507.06,228.91 507.23,226.82 507.40,224.96 507.58,225.17 507.75,226.48 507.92,225.94 508.09,226.14 508.26,226.15 508.43,226.74 508.60,225.74 508.78,226.46 508.95,226.95 509.12,227.09 509.29,226.58 509.46,226.20 509.63,225.82 509.80,226.82 509.97,225.92 510.15,224.55 510.32,226.56 510.49,225.73 510.66,225.37 510.83,226.60 511.00,225.75 511.17,225.59 511.34,225.31 511.52,226.35 511.69,225.66 511.86,226.44 512.03,226.73 512.20,225.71 512.37,227.11 512.54,227.47 512.72,226.42 512.89,227.38 513.06,227.12 513.23,226.98 513.40,226.88 513.57,225.87 513.74,227.64" fill="none" stroke="#3a5cb8" stroke-width="0.55" stroke-linejoin="round"/>
<line x1="355.35" y1="225.34" x2="366.77" y2="220.60" stroke="#e0442c" stroke-width="0.5"/>
<polyline points="366.77,220.60 366.94,219.64 367.11,220.05 367.28,221.39 367.45,221.17 367.62,220.70 367.80,220.38 367.97,219.95 368.14,221.37 368.31,220.20 368.48,221.36 368.65,220.73 368.82,222.80 368.99,221.68 369.17,220.18 369.34,221.88 369.51,219.61 369.68,221.46 369.85,220.53 370.02,221.11 370.19,221.24 370.36,220.76 370.54,220.47 370.71,218.20 370.88,222.23 371.05,220.96 371.22,220.93 371.39,222.64 371.56,221.23 371.74,222.12 371.91,221.32 372.08,219.62 372.25,224.09 372.42,220.61 372.59,219.91 372.76,222.72 372.93,219.99 373.11,220.70 373.28,221.86 373.45,219.67 373.62,222.83 373.79,220.60 373.96,221.59 374.13,222.27 374.30,221.67 374.48,221.58 374.65,220.32 374.82,222.66 374.99,221.35 375.16,221.20 375.33,219.30 375.50,222.68 375.68,219.96 375.85,222.66 376.02,220.38 376.19,221.38 376.36,220.30 376.53,221.85 376.70,223.13 376.87,222.71 377.05,219.96 377.22,220.86 377.39,222.03 377.56,219.93 377.73,221.96 377.90,222.55 378.07,222.72 378.24,220.11 378.42,219.30 378.59,221.90 378.76,220.88 378.93,220.56 379.10,219.28 379.27,223.57 379.44,220.85 379.61,220.45 379.79,222.60 379.96,221.02 380.13,221.01 380.30,220.73 380.47,222.37 380.64,220.64 380.81,221.75 380.99,219.63 381.16,220.91 381.33,221.81 381.50,223.44 381.67,219.68 381.84,220.28 382.01,220.39 382.18,222.00 382.36,222.25 382.53,220.17 382.70,220.63 382.87,222.06 383.04,221.51 383.21,221.41 383.38,221.68 383.55,222.02 383.73,219.84 383.90,220.71 384.07,222.08 384.24,222.25 384.41,221.49 384.58,221.43 384.75,221.54 384.93,221.65 385.10,220.49 385.27,221.22 385.44,222.08 385.61,224.16 385.78,221.97 385.95,222.82 386.12,221.85 386.30,220.92 386.47,219.52 386.64,221.52 386.81,222.43 386.98,219.06 387.15,220.87 387.32,221.69 387.49,221.74 387.67,221.93 387.84,220.39 388.01,220.79 388.18,219.64 388.35,219.67 388.52,221.04 388.69,220.10 388.87,221.51 389.04,222.11 389.21,220.07 389.38,222.41 389.55,221.25 389.72,220.90 389.89,220.61 390.06,220.85 390.24,223.27 390.41,220.78 390.58,219.92 390.75,222.90 390.92,222.23 391.09,221.31 391.26,222.59 391.43,221.85 391.61,220.75 391.78,222.64 391.95,220.65 392.12,221.33 392.29,222.81 392.46,221.58 392.63,220.54 392.81,221.45 392.98,221.33 393.15,220.58 393.32,221.19 393.49,219.85 393.66,221.55 393.83,222.50 394.00,220.85 394.18,221.45 394.35,220.42 394.52,221.99 394.69,220.92 394.86,220.30 395.03,221.65 395.20,219.77 395.37,220.00 395.55,221.47 395.72,220.30 395.89,222.02 396.06,220.35 396.23,221.95 396.40,221.64 396.57,220.97 396.74,221.57 396.92,220.69 397.09,220.25 397.26,222.70 397.43,221.26 397.60,221.10 397.77,220.73 397.94,221.25 398.12,218.86 398.29,220.19 398.46,223.45 398.63,220.63 398.80,220.04 398.97,220.91 399.14,222.86 399.31,220.87 399.49,221.05 399.66,218.88 399.83,223.24 400.00,220.26 400.17,221.41 400.34,221.10 400.51,220.99 400.68,221.19 400.86,220.43 401.03,222.03 401.20,220.00 401.37,221.14 401.54,222.12 401.71,221.36 401.88,222.33 402.06,221.34 402.23,220.00 402.40,222.42 402.57,223.35 402.74,221.14 402.91,219.48 403.08,220.02 403.25,220.13 403.43,220.32 403.60,222.06 403.77,221.12 403.94,223.79 404.11,222.00 404.28,220.71 404.45,222.81 404.62,223.35 404.80,222.50 404.97,221.29 405.14,220.44 405.31,218.98 405.48,219.73 405.65,222.11 405.82,223.78 406.00,221.13 406.17,220.29 406.34,222.58 406.51,222.85 406.68,221.74 406.85,220.97 407.02,220.83 407.19,220.92 407.37,220.34 407.54,220.99 407.71,220.08 407.88,219.62 408.05,221.97 408.22,222.79 408.39,221.49 408.56,220.30 408.74,221.73 408.91,220.75 409.08,221.88 409.25,220.62 409.42,221.23 409.59,220.46 409.76,221.42 409.94,221.25 410.11,219.89 410.28,220.26 410.45,221.99 410.62,220.55 410.79,222.86 410.96,220.40 411.13,218.51 411.31,221.88 411.48,221.31 411.65,221.58 411.82,220.49 411.99,221.76 412.16,220.34 412.33,221.23 412.50,221.52 412.68,221.35 412.85,222.01 413.02,222.67 413.19,218.78 413.36,222.05 413.53,224.36 413.70,220.59 413.87,221.48 414.05,221.02 414.22,220.70 414.39,222.14 414.56,224.00 414.73,221.76 414.90,221.27 415.07,219.61 415.25,222.10 415.42,221.65 415.59,220.96 415.76,221.67 415.93,221.47 416.10,220.77 416.27,222.29 416.44,219.75 416.62,222.25 416.79,221.56 416.96,221.51 417.13,222.35 417.30,221.05 417.47,220.51 417.64,219.96 417.81,220.56 417.99,221.94 418.16,220.50 418.33,222.87 418.50,221.40 418.67,220.17 418.84,220.77 419.01,223.47 419.19,222.54 419.36,219.79 419.53,221.22 419.70,223.43 419.87,221.97 420.04,221.33 420.21,220.21 420.38,221.45 420.56,219.53 420.73,220.93 420.90,220.98 421.07,220.57 421.24,221.90 421.41,221.19 421.58,222.13 421.75,222.31 421.93,220.73 422.10,222.08 422.27,220.95 422.44,222.58 422.61,221.71 422.78,222.28 422.95,220.34 423.13,221.56 423.30,221.55 423.47,220.44 423.64,224.14 423.81,222.07 423.98,224.57 424.15,221.54 424.32,220.87 424.50,220.54 424.67,221.37 424.84,222.98 425.01,219.62 425.18,221.10 425.35,221.88 425.52,221.74 425.69,221.00 425.87,222.01 426.04,221.96 426.21,221.87 426.38,220.68 426.55,221.32 426.72,220.65 426.89,222.36 427.07,222.64 427.24,221.35 427.41,221.41 427.58,221.92 427.75,222.10 427.92,221.67 428.09,222.04 428.26,223.21 428.44,221.69 428.61,222.76 428.78,221.92 428.95,220.99 429.12,221.37 429.29,218.64 429.46,222.37 429.63,221.79 429.81,221.56 429.98,220.27 430.15,221.83 430.32,223.05 430.49,221.23 430.66,222.98 430.83,221.61 431.00,220.60 431.18,222.46 431.35,222.37 431.52,221.15 431.69,221.55 431.86,222.00 432.03,222.52 432.20,222.02 432.38,222.95 432.55,223.26 432.72,220.28 432.89,221.07 433.06,221.25 433.23,222.66 433.40,221.63 433.57,221.62 433.75,223.08 433.92,221.55 434.09,222.17 434.26,221.35 434.43,223.99 434.60,220.27 434.77,220.91 434.94,221.29 435.12,222.70 435.29,222.58 435.46,220.48 435.63,221.62 435.80,222.32 435.97,221.59 436.14,222.77 436.32,219.77 436.49,224.67 436.66,221.63 436.83,222.23 437.00,223.49 437.17,220.99 437.34,221.55 437.51,221.82 437.69,222.32 437.86,221.16 438.03,220.20 438.20,221.96 438.37,220.63 438.54,221.18 438.71,221.05 438.88,220.32 439.06,222.85 439.23,222.24 439.40,221.53 439.57,220.60 439.74,220.30 439.91,221.04 440.08,221.35 440.26,221.61 440.43,221.89 440.60,222.16 440.77,221.87 440.94,221.10 441.11,221.53 441.28,223.09 441.45,221.76 441.63,222.66 441.80,221.06 441.97,224.87 442.14,221.63 442.31,222.21 442.48,222.17 442.65,220.99 442.82,223.46 443.00,219.46 443.17,221.74 443.34,221.92 443.51,223.88 443.68,221.26 443.85,221.34 444.02,221.83 444.20,221.75 444.37,220.18 444.54,222.01 444.71,222.99 444.88,221.23 445.05,222.34 445.22,221.23 445.39,219.71 445.57,222.17 445.74,221.84 445.91,221.68 446.08,221.58 446.25,221.47 446.42,221.24 446.59,222.34 446.76,221.88 446.94,221.52 447.11,221.48 447.28,221.01 447.45,221.32 447.62,222.13 447.79,220.85 447.96,222.28 448.13,222.05 448.31,220.88 448.48,223.60 448.65,221.27 448.82,219.02 448.99,223.47 449.16,220.52 449.33,223.56 449.51,221.54 449.68,219.97 449.85,220.49 450.02,222.51 450.19,222.61 450.36,223.29 450.53,220.95 450.70,221.92 450.88,222.15 451.05,221.72 451.22,221.11 451.39,221.23 451.56,221.52 451.73,223.49 451.90,220.62 452.07,224.45 452.25,220.87 452.42,222.53 452.59,222.42 452.76,222.57 452.93,222.39 453.10,222.43 453.27,222.72 453.45,222.69 453.62,220.20 453.79,222.90 453.96,220.79 454.13,222.06 454.30,223.06 454.47,222.15 454.64,220.70 454.82,223.10 454.99,221.66 455.16,220.63 455.33,222.98 455.50,222.86 455.67,221.88 455.84,223.42 456.01,224.40 456.19,223.73 456.36,221.37 456.53,221.57 456.70,221.75 456.87,221.34 457.04,223.27 457.21,221.62 457.39,220.73 457.56,222.92 457.73,221.00 457.90,222.35 458.07,222.05 458.24,221.64 458.41,223.56 458.58,221.43 458.76,222.09 458.93,222.38 459.10,222.66 459.27,221.27 459.44,221.56 459.61,222.39 459.78,220.64 459.95,222.70 460.13,222.33 460.30,224.89 460.47,222.30 460.64,222.38 460.81,223.08 460.98,222.88 461.15,221.58 461.33,220.93 461.50,221.01 461.67,221.20 461.84,223.16 462.01,221.89 462.18,223.42 462.35,221.66 462.52,221.20 462.70,222.85 462.87,223.25 463.04,222.25 463.21,223.21 463.38,221.84 463.55,219.27 463.72,221.39 463.89,221.34 464.07,222.14 464.24,222.90 464.41,220.13 464.58,222.31 464.75,221.94 464.92,222.27 465.09,221.86 465.26,222.63 465.44,221.75 465.61,224.20 465.78,222.33 465.95,220.73 466.12,223.28 466.29,223.10 466.46,221.00 466.64,221.55 466.81,221.38 466.98,224.55 467.15,221.97 467.32,223.69 467.49,223.08 467.66,222.13 467.83,221.91 468.01,223.77 468.18,223.32 468.35,222.79 468.52,222.51 468.69,223.35 468.86,219.72 469.03,221.70 469.20,222.35 469.38,222.53 469.55,220.27 469.72,220.43 469.89,223.14 470.06,222.43 470.23,220.83 470.40,223.54 470.58,223.23 470.75,220.95 470.92,223.14 471.09,223.38 471.26,223.70 471.43,222.78 471.60,221.50 471.77,222.17 471.95,223.64 472.12,222.25 472.29,220.67 472.46,222.18 472.63,222.72 472.80,222.23 472.97,222.22 473.14,222.09 473.32,223.66 473.49,222.17 473.66,222.63 473.83,221.67 474.00,223.59 474.17,221.35 474.34,223.09 474.52,223.64 474.69,222.05 474.86,222.61 475.03,221.68 475.20,223.02 475.37,222.25 475.54,221.22 475.71,221.26 475.89,222.00 476.06,224.06 476.23,224.54 476.40,222.28 476.57,223.36 476.74,221.55 476.91,222.35 477.08,224.16 477.26,222.84 477.43,223.49 477.60,223.69 477.77,223.24 477.94,221.86 478.11,221.33 478.28,223.51 478.46,223.19 478.63,220.45 478.80,221.32 478.97,222.13 479.14,225.28 479.31,223.24 479.48,222.39 479.65,222.71 479.83,221.14 480.00,222.74 480.17,222.59 480.34,223.32 480.51,222.89 480.68,222.98 480.85,223.26 481.02,223.36 481.20,221.43 481.37,222.58 481.54,221.26 481.71,223.88 481.88,222.42 482.05,222.35 482.22,221.47 482.39,223.15 482.57,221.85 482.74,223.38 482.91,222.01 483.08,222.26 483.25,223.18 483.42,222.75 483.59,222.49 483.77,222.04 483.94,223.73 484.11,220.70 484.28,223.65 484.45,220.74 484.62,221.49 484.79,223.40 484.96,223.81 485.14,219.93 485.31,221.98 485.48,221.99 485.65,223.15 485.82,222.79 485.99,221.82 486.16,221.69 486.33,223.89 486.51,221.65 486.68,222.60 486.85,223.57 487.02,221.64 487.19,222.67 487.36,220.81 487.53,222.68 487.71,222.46 487.88,224.29 488.05,222.24 488.22,223.90 488.39,222.47 488.56,225.47 488.73,223.33 488.90,222.03 489.08,222.10 489.25,221.74 489.42,223.74 489.59,221.17 489.76,220.37 489.93,223.71 490.10,222.63 490.27,223.22 490.45,222.70 490.62,221.64 490.79,225.18 490.96,222.06 491.13,223.76 491.30,223.99 491.47,221.90 491.65,223.23 491.82,221.60 491.99,221.76 492.16,223.25 492.33,222.18 492.50,221.87 492.67,223.30 492.84,224.96 493.02,223.06 493.19,221.54 493.36,222.77 493.53,220.72 493.70,222.27 493.87,221.67 494.04,222.68 494.21,223.23 494.39,222.72 494.56,222.77 494.73,224.75 494.90,224.48 495.07,221.91 495.24,223.39 495.41,222.99 495.59,224.55 495.76,223.40 495.93,221.70 496.10,222.77 496.27,222.89 496.44,221.51 496.61,222.74 496.78,223.33 496.96,221.56 497.13,224.27 497.30,221.85 497.47,223.69 497.64,223.92 497.81,223.35 497.98,222.81 498.15,222.69 498.33,222.85 498.50,222.63 498.67,221.32 498.84,221.54 499.01,222.06 499.18,221.67 499.35,223.18 499.52,224.03 499.70,222.48 499.87,222.81 500.04,222.05 500.21,224.51 500.38,220.00 500.55,223.96 500.72,222.61 500.90,221.63 501.07,224.05 501.24,223.59 501.41,224.81 501.58,224.34 501.75,225.29 501.92,222.68 502.09,222.92 502.27,223.05 502.44,221.60 502.61,222.03 502.78,222.93 502.95,223.07 503.12,223.34 503.29,222.79 503.46,220.96 503.64,223.08 503.81,223.06 503.98,223.16 504.15,222.05 504.32,222.73 504.49,222.59 504.66,222.85 504.84,221.65 505.01,221.65 505.18,223.22 505.35,223.18 505.52,222.98 505.69,222.59 505.86,222.91 506.03,222.46 506.21,222.29 506.38,223.05 506.55,222.10 506.72,222.81 506.89,224.60 507.06,223.55 507.23,225.12 507.40,221.46 507.58,222.95 507.75,222.63 507.92,222.61 508.09,222.83 508.26,223.89 508.43,223.12 508.60,223.15 508.78,220.94 508.95,223.74 509.12,222.81 509.29,223.14 509.46,223.02 509.63,222.87 509.80,221.64 509.97,220.25 510.15,224.35 510.32,222.13 510.49,221.66 510.66,223.59 510.83,223.70 511.00,222.84 511.17,225.61 511.34,222.37 511.52,223.05 511.69,223.45 511.86,221.95 512.03,223.05 512.20,220.75 512.37,223.33 512.54,222.36 512.72,223.25 512.89,222.56 513.06,223.43 513.23,223.09 513.40,224.22 513.57,223.74 513.74,222.18" fill="none" stroke="#e0442c" stroke-width="0.55" stroke-linejoin="round"/>
<line x1="355.35" y1="225.34" x2="369.91" y2="202.03" stroke="#48ac50" stroke-width="0.5"/>
<polyline points="369.91,202.03 370.08,199.72 370.25,198.22 370.42,194.41 370.59,198.97 370.76,193.74 370.94,192.05 371.11,194.68 371.28,191.64 371.45,191.33 371.62,191.64 371.79,194.70 371.96,191.50 372.13,193.23 372.31,193.11 372.48,188.92 372.65,190.70 372.82,194.88 372.99,193.81 373.16,192.51 373.33,188.18 373.51,193.91 373.68,192.46 373.85,187.21 374.02,187.32 374.19,188.41 374.36,190.44 374.53,187.29 374.70,190.45 374.88,192.52 375.05,190.74 375.22,190.72 375.39,188.91 375.56,188.08 375.73,190.24 375.90,189.62 376.07,184.69 376.25,188.35 376.42,189.08 376.59,188.80 376.76,190.40 376.93,185.94 377.10,185.87 377.27,189.35 377.45,186.07 377.62,189.32 377.79,187.15 377.96,188.94 378.13,189.76 378.30,190.72 378.47,187.25 378.64,188.05 378.82,187.99 378.99,189.34 379.16,189.10 379.33,188.71 379.50,188.39 379.67,186.38 379.84,189.39 380.01,186.74 380.19,183.74 380.36,186.53 380.53,183.41 380.70,186.15 380.87,183.26 381.04,187.58 381.21,185.08 381.39,188.04 381.56,186.18 381.73,187.67 381.90,190.72 382.07,189.27 382.24,184.55 382.41,185.09 382.58,184.21 382.76,185.85 382.93,191.98 383.10,185.96 383.27,187.61 383.44,187.34 383.61,186.80 383.78,187.99 383.95,187.91 384.13,183.46 384.30,187.20 384.47,187.29 384.64,186.31 384.81,183.90 384.98,184.62 385.15,185.76 385.32,187.85 385.50,186.82 385.67,188.82 385.84,188.96 386.01,184.54 386.18,186.25 386.35,186.38 386.52,187.35 386.70,185.00 386.87,181.85 387.04,185.50 387.21,184.35 387.38,190.67 387.55,185.60 387.72,187.06 387.89,183.42 388.07,186.33 388.24,189.34 388.41,186.63 388.58,187.17 388.75,183.55 388.92,183.84 389.09,186.54 389.26,186.59 389.44,185.49 389.61,187.64 389.78,189.17 389.95,190.43 390.12,185.28 390.29,186.65 390.46,185.63 390.64,187.10 390.81,183.80 390.98,188.93 391.15,184.54 391.32,189.00 391.49,190.18 391.66,185.86 391.83,187.80 392.01,187.62 392.18,187.34 392.35,188.78 392.52,190.60 392.69,186.58 392.86,186.43 393.03,187.55 393.20,188.10 393.38,186.65 393.55,191.21 393.72,189.46 393.89,183.84 394.06,188.15 394.23,190.06 394.40,186.65 394.58,188.91 394.75,186.79 394.92,191.12 395.09,189.01 395.26,188.86 395.43,187.50 395.60,186.78 395.77,189.05 395.95,189.48 396.12,187.17 396.29,187.34 396.46,191.77 396.63,189.42 396.80,189.29 396.97,188.23 397.14,186.99 397.32,191.28 397.49,188.26 397.66,192.37 397.83,190.01 398.00,189.59 398.17,189.72 398.34,190.42 398.52,190.65 398.69,190.14 398.86,190.52 399.03,192.99 399.20,193.29 399.37,190.83 399.54,189.05 399.71,187.98 399.89,184.39 400.06,190.54 400.23,191.24 400.40,189.29 400.57,189.39 400.74,190.54 400.91,192.95 401.08,190.28 401.26,190.50 401.43,194.26 401.60,193.38 401.77,188.45 401.94,195.78 402.11,189.84 402.28,191.62 402.45,187.68 402.63,191.01 402.80,192.61 402.97,187.58 403.14,192.58 403.31,188.70 403.48,187.46 403.65,190.81 403.83,189.77 404.00,191.60 404.17,193.21 404.34,189.47 404.51,189.30 404.68,190.34 404.85,189.37 405.02,188.72 405.20,189.05 405.37,191.63 405.54,191.73 405.71,191.11 405.88,192.10 406.05,192.24 406.22,188.54 406.39,191.94 406.57,188.22 406.74,193.71 406.91,192.13 407.08,193.29 407.25,193.08 407.42,190.45 407.59,194.48 407.77,193.11 407.94,189.76 408.11,190.14 408.28,193.49 408.45,193.15 408.62,190.84 408.79,192.03 408.96,193.99 409.14,190.31 409.31,195.64 409.48,192.84 409.65,189.47 409.82,197.94 409.99,193.58 410.16,191.48 410.33,193.93 410.51,195.01 410.68,195.17 410.85,197.28 411.02,195.29 411.19,193.54 411.36,194.67 411.53,193.51 411.71,193.62 411.88,191.87 412.05,196.62 412.22,194.44 412.39,194.37 412.56,195.39 412.73,195.45 412.90,198.63 413.08,192.40 413.25,192.16 413.42,189.93 413.59,192.06 413.76,192.69 413.93,194.45 414.10,195.33 414.27,194.26 414.45,198.46 414.62,193.08 414.79,195.15 414.96,196.26 415.13,193.04 415.30,192.84 415.47,195.26 415.65,193.53 415.82,191.94 415.99,195.37 416.16,197.80 416.33,196.78 416.50,194.58 416.67,194.86 416.84,198.54 417.02,194.24 417.19,195.42 417.36,192.43 417.53,194.29 417.70,196.22 417.87,195.89 418.04,197.30 418.21,198.55 418.39,197.17 418.56,195.00 418.73,192.79 418.90,198.18 419.07,194.77 419.24,195.55 419.41,196.20 419.58,193.21 419.76,197.94 419.93,193.85 420.10,197.51 420.27,199.62 420.44,195.34 420.61,198.19 420.78,199.20 420.96,197.58 421.13,194.91 421.30,197.30 421.47,201.27 421.64,201.20 421.81,197.18 421.98,197.18 422.15,198.39 422.33,196.61 422.50,197.56 422.67,195.69 422.84,198.93 423.01,194.26 423.18,196.70 423.35,197.14 423.52,197.56 423.70,199.53 423.87,199.57 424.04,197.51 424.21,195.97 424.38,200.56 424.55,199.53 424.72,197.31 424.90,197.31 425.07,200.81 425.24,198.98 425.41,197.96 425.58,199.73 425.75,198.57 425.92,196.90 426.09,198.08 426.27,203.39 426.44,197.27 426.61,197.04 426.78,196.41 426.95,197.34 427.12,200.69 427.29,196.63 427.46,198.63 427.64,197.39 427.81,199.90 427.98,199.16 428.15,203.78 428.32,196.11 428.49,198.04 428.66,200.08 428.84,201.52 429.01,198.45 429.18,199.24 429.35,199.24 429.52,197.93 429.69,198.81 429.86,199.98 430.03,200.28 430.21,199.63 430.38,198.65 430.55,199.78 430.72,200.54 430.89,201.84 431.06,199.02 431.23,198.94 431.40,201.69 431.58,199.67 431.75,201.94 431.92,203.29 432.09,199.11 432.26,197.99 432.43,201.69 432.60,200.27 432.78,197.62 432.95,202.22 433.12,201.88 433.29,200.72 433.46,199.27 433.63,198.61 433.80,200.82 433.97,200.75 434.15,200.13 434.32,201.35 434.49,202.41 434.66,201.27 434.83,199.28 435.00,200.02 435.17,195.90 435.34,200.18 435.52,201.83 435.69,200.60 435.86,200.30 436.03,200.11 436.20,199.07 436.37,199.85 436.54,201.14 436.71,200.07 436.89,197.53 437.06,201.96 437.23,201.99 437.40,199.49 437.57,196.66 437.74,198.97 437.91,199.21 438.09,201.52 438.26,201.51 438.43,199.41 438.60,200.26 438.77,198.50 438.94,198.47 439.11,204.27 439.28,199.97 439.46,204.47 439.63,205.03 439.80,199.95 439.97,201.52 440.14,203.50 440.31,204.18 440.48,203.37 440.65,201.96 440.83,205.27 441.00,202.11 441.17,201.55 441.34,201.95 441.51,199.41 441.68,201.56 441.85,203.86 442.03,205.71 442.20,202.96 442.37,199.66 442.54,201.52 442.71,202.59 442.88,202.31 443.05,203.71 443.22,203.78 443.40,202.61 443.57,201.91 443.74,202.49 443.91,202.14 444.08,204.73 444.25,204.25 444.42,201.79 444.59,205.14 444.77,204.05 444.94,203.01 445.11,199.20 445.28,200.64 445.45,199.00 445.62,198.58 445.79,203.23 445.97,202.21 446.14,203.67 446.31,200.57 446.48,199.36 446.65,201.62 446.82,201.11 446.99,202.36 447.16,202.69 447.34,202.96 447.51,200.24 447.68,205.60 447.85,204.61 448.02,202.36 448.19,200.92 448.36,202.80 448.53,201.83 448.71,201.74 448.88,202.53 449.05,206.38 449.22,203.87 449.39,206.58 449.56,203.36 449.73,204.12 449.91,201.61 450.08,199.38 450.25,203.63 450.42,202.79 450.59,203.73 450.76,205.76 450.93,204.36 451.10,204.37 451.28,202.41 451.45,205.31 451.62,205.67 451.79,206.08 451.96,204.07 452.13,206.31 452.30,204.65 452.47,204.14 452.65,202.43 452.82,200.93 452.99,204.66 453.16,202.45 453.33,204.16 453.50,202.14 453.67,202.19 453.84,205.13 454.02,202.91 454.19,207.34 454.36,204.36 454.53,204.89 454.70,201.07 454.87,200.76 455.04,202.94 455.22,202.28 455.39,205.44 455.56,200.57 455.73,200.16 455.90,202.67 456.07,203.79 456.24,204.57 456.41,203.45 456.59,200.87 456.76,205.72 456.93,203.83 457.10,200.66 457.27,202.16 457.44,201.12 457.61,202.23 457.78,203.35 457.96,201.99 458.13,203.11 458.30,203.69 458.47,205.16 458.64,207.15 458.81,201.60 458.98,203.56 459.16,203.51 459.33,203.10 459.50,206.23 459.67,207.00 459.84,205.85 460.01,204.97 460.18,203.97 460.35,203.62 460.53,203.64 460.70,204.65 460.87,203.83 461.04,203.48 461.21,205.02 461.38,203.57 461.55,203.81 461.72,201.87 461.90,203.22 462.07,204.74 462.24,202.04 462.41,203.96 462.58,201.30 462.75,207.80 462.92,206.24 463.10,206.13 463.27,204.42 463.44,205.51 463.61,207.67 463.78,206.44 463.95,203.86 464.12,201.61 464.29,202.49 464.47,205.27 464.64,203.73 464.81,205.16 464.98,206.98 465.15,202.60 465.32,203.68 465.49,205.97 465.66,205.26 465.84,202.77 466.01,204.12 466.18,204.13 466.35,203.73 466.52,204.56 466.69,205.46 466.86,205.72 467.04,202.69 467.21,205.15 467.38,207.00 467.55,201.46 467.72,202.75 467.89,204.34 468.06,205.00 468.23,204.62 468.41,207.56 468.58,204.71 468.75,204.30 468.92,204.71 469.09,204.22 469.26,205.77 469.43,203.58 469.60,207.53 469.78,204.26 469.95,206.77 470.12,207.44 470.29,206.33 470.46,204.69 470.63,205.95 470.80,203.08 470.97,206.40 471.15,204.42 471.32,203.06 471.49,204.79 471.66,202.67 471.83,206.90 472.00,203.99 472.17,204.33 472.35,203.29 472.52,207.26 472.69,204.94 472.86,206.60 473.03,204.06 473.20,205.13 473.37,204.35 473.54,205.90 473.72,206.59 473.89,207.40 474.06,206.09 474.23,203.43 474.40,204.37 474.57,205.98 474.74,202.88 474.91,206.86 475.09,201.96 475.26,206.83 475.43,204.96 475.60,207.04 475.77,206.54 475.94,206.53 476.11,201.77 476.29,205.55 476.46,203.52 476.63,203.21 476.80,204.46 476.97,203.11 477.14,204.30 477.31,207.47 477.48,204.86 477.66,203.58 477.83,208.05 478.00,203.71 478.17,206.97 478.34,203.02 478.51,205.62 478.68,204.74 478.85,203.51 479.03,203.79 479.20,206.29 479.37,206.34 479.54,203.06 479.71,210.40 479.88,202.64 480.05,202.88 480.23,206.82 480.40,203.51 480.57,204.53 480.74,203.51 480.91,209.51 481.08,205.96 481.25,205.00 481.42,205.56 481.60,205.81 481.77,206.58 481.94,209.57 482.11,204.52 482.28,205.90 482.45,204.88 482.62,205.26 482.79,204.42 482.97,204.64 483.14,202.06 483.31,206.66 483.48,202.77 483.65,206.07 483.82,206.51 483.99,207.43 484.17,203.36 484.34,207.80 484.51,204.13 484.68,204.69 484.85,205.02 485.02,205.18 485.19,204.58 485.36,205.06 485.54,204.37 485.71,205.37 485.88,206.19 486.05,204.54 486.22,206.51 486.39,204.66 486.56,205.20 486.73,208.25 486.91,207.24 487.08,205.45 487.25,209.34 487.42,202.66 487.59,203.43 487.76,207.16 487.93,205.47 488.10,202.08 488.28,204.87 488.45,207.44 488.62,208.77 488.79,208.79 488.96,202.61 489.13,203.92 489.30,207.59 489.48,204.32 489.65,206.04 489.82,206.51 489.99,206.01 490.16,205.09 490.33,202.38 490.50,207.50 490.67,206.32 490.85,201.76 491.02,203.06 491.19,207.48 491.36,203.01 491.53,203.23 491.70,208.09 491.87,201.55 492.04,207.89 492.22,203.96 492.39,207.24 492.56,208.67 492.73,204.11 492.90,206.31 493.07,205.67 493.24,206.93 493.42,206.03 493.59,206.03 493.76,207.34 493.93,204.50 494.10,205.82 494.27,205.52 494.44,206.71 494.61,206.13 494.79,208.62 494.96,207.01 495.13,206.89 495.30,203.17 495.47,207.14 495.64,205.60 495.81,204.71 495.98,203.94 496.16,203.51 496.33,205.41 496.50,200.82 496.67,205.56 496.84,205.24 497.01,200.53 497.18,207.71 497.36,203.90 497.53,205.11 497.70,207.98 497.87,207.53 498.04,204.09 498.21,208.11 498.38,203.90 498.55,201.24 498.73,205.79 498.90,205.12 499.07,206.43 499.24,205.76 499.41,206.45 499.58,206.71 499.75,204.30 499.92,205.45 500.10,201.09 500.27,204.38 500.44,203.66 500.61,202.72 500.78,205.55 500.95,207.51 501.12,205.37 501.30,207.02 501.47,202.32 501.64,203.56 501.81,203.82 501.98,207.07 502.15,206.16 502.32,205.19 502.49,201.90 502.67,207.18 502.84,205.95 503.01,203.66 503.18,204.97 503.35,205.94 503.52,204.84 503.69,207.04 503.86,206.23 504.04,203.57 504.21,206.90 504.38,206.99 504.55,204.97 504.72,205.32 504.89,200.43 505.06,207.12 505.23,204.73 505.41,201.43 505.58,205.39 505.75,203.37 505.92,208.75 506.09,203.90 506.26,204.85 506.43,203.97 506.61,205.56 506.78,204.28 506.95,205.85 507.12,203.24 507.29,205.93 507.46,204.51 507.63,207.89 507.80,205.45 507.98,211.92 508.15,206.05 508.32,204.45 508.49,207.66 508.66,202.29 508.83,207.10 509.00,205.29 509.17,207.43 509.35,207.11 509.52,205.05 509.69,208.61 509.86,208.30 510.03,201.70 510.20,206.07 510.37,203.94 510.55,208.31 510.72,206.37 510.89,205.29 511.06,206.07 511.23,207.05 511.40,205.92 511.57,204.93 511.74,203.77 511.92,205.06 512.09,208.13 512.26,210.82 512.43,206.53 512.60,206.17 512.77,204.55 512.94,205.22 513.11,207.54 513.29,201.13 513.46,206.91 513.63,209.36 513.80,204.21" fill="none" stroke="#48ac50" stroke-width="0.6" stroke-linejoin="round"/>
<line x1="355.35" y1="225.34" x2="368.77" y2="197.98" stroke="#a95aaa" stroke-width="0.5"/>
<polyline points="368.77,197.98 368.94,200.38 369.11,202.53 369.28,197.60 369.45,198.42 369.62,196.35 369.79,194.86 369.97,197.93 370.14,198.23 370.31,198.92 370.48,199.67 370.65,201.09 370.82,199.53 370.99,197.51 371.16,201.22 371.34,199.93 371.51,194.74 371.68,198.81 371.85,195.24 372.02,194.53 372.19,197.06 372.36,194.16 372.53,195.54 372.71,196.90 372.88,196.75 373.05,196.09 373.22,195.58 373.39,195.07 373.56,197.94 373.73,193.80 373.90,195.51 374.08,196.39 374.25,193.72 374.42,194.17 374.59,194.66 374.76,191.60 374.93,195.29 375.10,191.95 375.28,195.46 375.45,195.43 375.62,194.96 375.79,195.66 375.96,193.97 376.13,194.70 376.30,191.09 376.47,194.55 376.65,193.78 376.82,194.72 376.99,187.03 377.16,193.21 377.33,190.21 377.50,195.23 377.67,194.35 377.84,190.09 378.02,194.95 378.19,194.34 378.36,192.63 378.53,194.23 378.70,192.59 378.87,192.02 379.04,190.49 379.22,192.87 379.39,191.67 379.56,189.61 379.73,189.49 379.90,192.83 380.07,196.15 380.24,193.80 380.41,189.39 380.59,192.59 380.76,193.31 380.93,193.01 381.10,188.75 381.27,191.68 381.44,192.71 381.61,192.86 381.78,193.62 381.96,185.95 382.13,190.77 382.30,191.09 382.47,191.52 382.64,189.63 382.81,193.32 382.98,193.94 383.16,191.65 383.33,189.93 383.50,185.99 383.67,190.08 383.84,191.23 384.01,190.75 384.18,191.03 384.35,192.33 384.53,190.31 384.70,190.35 384.87,192.40 385.04,188.33 385.21,190.58 385.38,189.83 385.55,191.32 385.72,190.18 385.90,189.53 386.07,189.30 386.24,191.51 386.41,188.96 386.58,190.25 386.75,188.89 386.92,189.01 387.10,188.01 387.27,191.35 387.44,192.97 387.61,190.35 387.78,187.97 387.95,191.02 388.12,186.18 388.29,194.60 388.47,189.44 388.64,187.97 388.81,188.20 388.98,192.35 389.15,187.86 389.32,189.25 389.49,188.44 389.66,191.75 389.84,190.99 390.01,188.77 390.18,190.50 390.35,192.02 390.52,192.87 390.69,190.03 390.86,192.32 391.03,190.54 391.21,190.56 391.38,193.03 391.55,190.54 391.72,189.06 391.89,190.47 392.06,193.83 392.23,192.66 392.41,189.18 392.58,194.02 392.75,191.92 392.92,188.59 393.09,192.50 393.26,192.29 393.43,190.78 393.60,188.73 393.78,190.92 393.95,193.76 394.12,195.23 394.29,190.99 394.46,195.06 394.63,191.22 394.80,190.70 394.97,197.09 395.15,192.53 395.32,190.23 395.49,192.73 395.66,192.09 395.83,190.43 396.00,190.49 396.17,187.26 396.35,192.93 396.52,194.11 396.69,193.53 396.86,194.87 397.03,192.60 397.20,191.30 397.37,191.74 397.54,193.08 397.72,189.37 397.89,191.14 398.06,190.68 398.23,194.15 398.40,193.78 398.57,195.38 398.74,194.37 398.91,192.77 399.09,195.16 399.26,194.18 399.43,190.32 399.60,193.31 399.77,194.78 399.94,194.87 400.11,193.45 400.29,191.24 400.46,194.03 400.63,191.42 400.80,193.35 400.97,196.52 401.14,191.34 401.31,194.59 401.48,190.01 401.66,195.98 401.83,194.39 402.00,195.78 402.17,193.31 402.34,193.76 402.51,193.31 402.68,192.75 402.85,193.68 403.03,190.78 403.20,193.82 403.37,192.91 403.54,192.15 403.71,195.25 403.88,189.71 404.05,191.67 404.23,193.34 404.40,194.48 404.57,196.10 404.74,194.66 404.91,193.04 405.08,197.02 405.25,194.40 405.42,195.96 405.60,191.93 405.77,193.37 405.94,192.87 406.11,190.21 406.28,194.06 406.45,191.57 406.62,195.84 406.79,192.93 406.97,196.81 407.14,196.36 407.31,192.15 407.48,195.21 407.65,196.17 407.82,196.19 407.99,195.95 408.16,196.66 408.34,198.09 408.51,193.76 408.68,193.87 408.85,197.06 409.02,197.62 409.19,197.02 409.36,191.99 409.54,198.95 409.71,197.86 409.88,198.21 410.05,194.84 410.22,199.35 410.39,195.14 410.56,197.71 410.73,197.54 410.91,200.22 411.08,195.47 411.25,196.82 411.42,198.03 411.59,194.43 411.76,196.37 411.93,190.76 412.10,196.31 412.28,197.10 412.45,196.47 412.62,191.97 412.79,193.91 412.96,197.14 413.13,196.19 413.30,196.83 413.48,195.97 413.65,199.45 413.82,198.55 413.99,196.83 414.16,195.33 414.33,195.91 414.50,197.14 414.67,200.27 414.85,202.11 415.02,198.56 415.19,197.52 415.36,197.50 415.53,195.33 415.70,196.29 415.87,200.69 416.04,197.46 416.22,197.77 416.39,196.72 416.56,198.58 416.73,203.35 416.90,198.79 417.07,198.77 417.24,201.07 417.42,198.01 417.59,198.76 417.76,196.05 417.93,199.31 418.10,198.92 418.27,198.24 418.44,198.69 418.61,196.97 418.79,200.62 418.96,203.06 419.13,194.25 419.30,196.32 419.47,199.12 419.64,195.83 419.81,201.18 419.98,201.33 420.16,196.35 420.33,197.33 420.50,199.83 420.67,198.95 420.84,199.50 421.01,197.54 421.18,198.50 421.36,203.31 421.53,199.41 421.70,201.60 421.87,200.21 422.04,200.19 422.21,194.99 422.38,199.22 422.55,203.61 422.73,197.35 422.90,202.22 423.07,196.87 423.24,198.84 423.41,198.30 423.58,201.04 423.75,202.22 423.92,199.82 424.10,204.51 424.27,202.00 424.44,202.01 424.61,201.45 424.78,202.99 424.95,204.51 425.12,199.70 425.29,201.93 425.47,200.83 425.64,199.59 425.81,200.27 425.98,201.80 426.15,201.95 426.32,198.63 426.49,199.44 426.67,198.96 426.84,198.42 427.01,204.82 427.18,201.48 427.35,202.18 427.52,205.37 427.69,202.71 427.86,202.36 428.04,202.02 428.21,204.81 428.38,202.43 428.55,201.41 428.72,202.12 428.89,201.31 429.06,200.14 429.23,198.80 429.41,200.81 429.58,197.26 429.75,199.81 429.92,200.38 430.09,200.49 430.26,201.88 430.43,203.42 430.61,198.41 430.78,206.95 430.95,205.32 431.12,199.85 431.29,200.66 431.46,201.39 431.63,202.08 431.80,202.38 431.98,204.48 432.15,203.51 432.32,204.85 432.49,198.38 432.66,201.74 432.83,201.67 433.00,202.19 433.17,202.49 433.35,204.89 433.52,199.07 433.69,201.49 433.86,203.27 434.03,201.21 434.20,200.51 434.37,200.37 434.55,201.75 434.72,201.75 434.89,204.06 435.06,201.00 435.23,201.01 435.40,201.97 435.57,206.27 435.74,200.70 435.92,202.07 436.09,202.29 436.26,208.40 436.43,207.37 436.60,204.29 436.77,204.75 436.94,204.28 437.11,202.93 437.29,202.38 437.46,205.01 437.63,206.09 437.80,203.11 437.97,204.05 438.14,206.64 438.31,206.05 438.49,198.12 438.66,204.43 438.83,205.38 439.00,208.69 439.17,206.65 439.34,204.08 439.51,204.00 439.68,202.59 439.86,205.82 440.03,204.26 440.20,202.48 440.37,206.43 440.54,204.91 440.71,208.88 440.88,206.23 441.05,207.62 441.23,203.55 441.40,205.40 441.57,201.89 441.74,204.81 441.91,203.84 442.08,202.92 442.25,204.78 442.42,207.95 442.60,202.27 442.77,205.09 442.94,208.88 443.11,206.55 443.28,207.50 443.45,202.91 443.62,201.84 443.80,203.27 443.97,200.30 444.14,206.96 444.31,209.22 444.48,207.65 444.65,205.04 444.82,211.20 444.99,206.64 445.17,204.29 445.34,207.20 445.51,207.05 445.68,209.35 445.85,203.07 446.02,202.73 446.19,208.49 446.36,207.92 446.54,205.77 446.71,204.06 446.88,203.38 447.05,204.87 447.22,203.59 447.39,203.99 447.56,202.37 447.74,205.27 447.91,207.09 448.08,206.70 448.25,201.61 448.42,204.46 448.59,203.54 448.76,203.42 448.93,204.11 449.11,202.45 449.28,210.36 449.45,206.74 449.62,205.02 449.79,205.84 449.96,207.34 450.13,210.42 450.30,208.06 450.48,207.68 450.65,207.97 450.82,204.30 450.99,205.64 451.16,209.75 451.33,209.09 451.50,206.80 451.68,205.44 451.85,207.38 452.02,206.85 452.19,211.98 452.36,208.81 452.53,208.79 452.70,207.90 452.87,207.84 453.05,209.01 453.22,209.37 453.39,206.65 453.56,209.32 453.73,204.53 453.90,208.94 454.07,209.67 454.24,206.19 454.42,211.54 454.59,206.36 454.76,209.87 454.93,206.60 455.10,209.72 455.27,210.42 455.44,211.81 455.62,206.92 455.79,207.95 455.96,212.31 456.13,205.72 456.30,207.74 456.47,210.55 456.64,207.61 456.81,210.01 456.99,205.55 457.16,215.00 457.33,204.71 457.50,209.08 457.67,209.29 457.84,208.46 458.01,211.34 458.18,206.63 458.36,208.32 458.53,207.36 458.70,210.33 458.87,211.59 459.04,208.91 459.21,207.91 459.38,207.61 459.55,209.81 459.73,211.04 459.90,208.85 460.07,206.59 460.24,209.86 460.41,211.29 460.58,204.72 460.75,213.69 460.93,210.27 461.10,210.21 461.27,207.48 461.44,209.72 461.61,212.29 461.78,211.91 461.95,209.14 462.12,209.40 462.30,211.25 462.47,210.87 462.64,212.42 462.81,211.56 462.98,210.63 463.15,211.36 463.32,211.09 463.49,212.62 463.67,206.91 463.84,213.86 464.01,207.99 464.18,209.29 464.35,207.04 464.52,207.48 464.69,210.85 464.87,209.48 465.04,208.39 465.21,207.00 465.38,208.77 465.55,210.94 465.72,207.08 465.89,210.51 466.06,211.51 466.24,210.25 466.41,211.91 466.58,212.51 466.75,209.32 466.92,204.19 467.09,209.10 467.26,210.55 467.43,212.50 467.61,209.31 467.78,212.57 467.95,209.32 468.12,209.97 468.29,210.11 468.46,209.14 468.63,210.83 468.81,209.24 468.98,209.50 469.15,210.74 469.32,210.65 469.49,208.95 469.66,211.25 469.83,207.81 470.00,210.30 470.18,208.25 470.35,209.79 470.52,210.67 470.69,212.84 470.86,210.91 471.03,210.24 471.20,209.84 471.37,209.34 471.55,209.33 471.72,212.07 471.89,212.87 472.06,210.71 472.23,211.46 472.40,207.29 472.57,207.63 472.75,209.98 472.92,208.72 473.09,209.90 473.26,211.61 473.43,212.57 473.60,216.41 473.77,209.50 473.94,210.82 474.12,210.92 474.29,211.00 474.46,210.10 474.63,209.35 474.80,210.59 474.97,211.82 475.14,210.16 475.31,209.79 475.49,205.62 475.66,212.22 475.83,210.44 476.00,212.56 476.17,211.47 476.34,206.48 476.51,211.79 476.68,212.47 476.86,211.90 477.03,210.78 477.20,210.26 477.37,215.03 477.54,211.51 477.71,209.83 477.88,211.59 478.06,211.86 478.23,213.37 478.40,211.85 478.57,211.94 478.74,215.11 478.91,212.62 479.08,213.49 479.25,213.05 479.43,209.82 479.60,211.71 479.77,208.88 479.94,211.32 480.11,213.15 480.28,213.39 480.45,208.67 480.62,215.34 480.80,209.94 480.97,214.44 481.14,214.20 481.31,213.65 481.48,214.50 481.65,211.59 481.82,213.60 482.00,213.00 482.17,210.53 482.34,216.50 482.51,212.67 482.68,210.19 482.85,210.44 483.02,211.51 483.19,213.92 483.37,210.73 483.54,210.02 483.71,207.95 483.88,207.99 484.05,212.92 484.22,208.56 484.39,211.45 484.56,214.51 484.74,211.00 484.91,210.01 485.08,216.31 485.25,209.53 485.42,214.09 485.59,209.13 485.76,211.43 485.94,212.40 486.11,209.76 486.28,213.10 486.45,208.27 486.62,215.52 486.79,213.79 486.96,214.99 487.13,212.09 487.31,212.80 487.48,211.35 487.65,210.20 487.82,211.82 487.99,209.91 488.16,209.77 488.33,211.56 488.50,214.83 488.68,215.57 488.85,209.96 489.02,214.59 489.19,215.30 489.36,214.83 489.53,213.04 489.70,211.86 489.88,214.34 490.05,214.98 490.22,211.94 490.39,216.02 490.56,213.38 490.73,210.96 490.90,212.58 491.07,210.85 491.25,213.14 491.42,211.61 491.59,213.55 491.76,213.83 491.93,211.93 492.10,211.22 492.27,216.99 492.44,214.55 492.62,218.28 492.79,215.94 492.96,216.57 493.13,214.47 493.30,213.96 493.47,211.70 493.64,211.15 493.81,214.65 493.99,213.85 494.16,211.87 494.33,214.38 494.50,215.46 494.67,217.23 494.84,212.19 495.01,212.84 495.19,215.44 495.36,215.97 495.53,215.15 495.70,212.64 495.87,214.92 496.04,215.07 496.21,213.61 496.38,212.01 496.56,210.89 496.73,212.13 496.90,213.31 497.07,213.07 497.24,212.06 497.41,212.11 497.58,214.32 497.75,215.58 497.93,213.93 498.10,215.18 498.27,212.22 498.44,214.95 498.61,215.39 498.78,210.95 498.95,210.48 499.13,215.79 499.30,213.92 499.47,212.00 499.64,214.63 499.81,212.69 499.98,216.24 500.15,215.06 500.32,213.76 500.50,212.78 500.67,211.65 500.84,216.91 501.01,216.80 501.18,214.84 501.35,212.24 501.52,214.04 501.69,213.08 501.87,214.01 502.04,216.08 502.21,215.71 502.38,216.27 502.55,212.87 502.72,216.61 502.89,214.19 503.07,213.48 503.24,212.05 503.41,213.63 503.58,213.28 503.75,219.57 503.92,212.51 504.09,215.37 504.26,214.59 504.44,217.37 504.61,214.90 504.78,215.57 504.95,214.94 505.12,212.50 505.29,215.46 505.46,215.17 505.63,212.66 505.81,217.54 505.98,217.86 506.15,213.97 506.32,217.66 506.49,216.40 506.66,214.68 506.83,214.21 507.01,215.57 507.18,217.08 507.35,211.90 507.52,214.37 507.69,211.28 507.86,216.12 508.03,214.71 508.20,214.37 508.38,213.43 508.55,213.66 508.72,214.39 508.89,210.99 509.06,214.80 509.23,213.19 509.40,215.15 509.57,216.26 509.75,213.61 509.92,218.33 510.09,213.27 510.26,217.95 510.43,215.80 510.60,215.47 510.77,216.46 510.94,214.82 511.12,213.26 511.29,211.01 511.46,213.34 511.63,215.81 511.80,216.67 511.97,215.82 512.14,213.06 512.32,213.49 512.49,212.75 512.66,212.80 512.83,212.49 513.00,216.24 513.17,217.03 513.34,217.30 513.51,216.67 513.69,216.47" fill="none" stroke="#a95aaa" stroke-width="0.6" stroke-linejoin="round"/>
<polyline points="342.50,225.29 342.67,226.21 342.84,226.02 343.01,226.51 343.19,224.36 343.36,226.33 343.53,226.25 343.70,226.73 343.87,225.33 344.04,226.33 344.21,223.75 344.38,224.85 344.56,227.72 344.73,226.13 344.90,224.65 345.07,226.21 345.24,225.50 345.41,225.30 345.58,225.98 345.75,225.62 345.93,225.29 346.10,225.90 346.27,225.63 346.44,226.46 346.61,224.93 346.78,226.04 346.95,224.94 347.13,223.51 347.30,223.88 347.47,225.61 347.64,225.33 347.81,225.70 347.98,225.00 348.15,226.04 348.32,226.35 348.50,225.53 348.67,225.43 348.84,224.44 349.01,224.15 349.18,225.19 349.35,225.75 349.52,225.69 349.69,224.48 349.87,225.40 350.04,225.27 350.21,223.70 350.38,225.33 350.55,225.51 350.72,225.81 350.89,224.58 351.06,225.69 351.24,226.33 351.41,225.00 351.58,224.84 351.75,224.31 351.92,226.58 352.09,225.32 352.26,225.82 352.44,225.41 352.61,226.83 352.78,225.58 352.95,224.02 353.12,225.38 353.29,227.90 353.46,224.37 353.63,225.38 353.81,225.50 353.98,225.76 354.15,226.58 354.32,224.16 354.49,225.39 354.66,227.22 354.83,226.34 355.00,223.84 355.18,224.85 355.35,224.42" fill="none" stroke="#efa030" stroke-width="0.6" stroke-linejoin="round"/>
<line x1="355.35" y1="225.34" x2="367.05" y2="179.99" stroke="#efa030" stroke-width="0.5"/>
<polyline points="367.05,179.99 367.22,180.10 367.40,184.05 367.57,181.91 367.74,183.04 367.91,183.25 368.08,182.74 368.25,183.43 368.42,181.41 368.59,180.69 368.77,181.89 368.94,183.30 369.11,180.42 369.28,183.23 369.45,180.04 369.62,178.51 369.79,186.10 369.97,180.46 370.14,182.03 370.31,182.22 370.48,181.64 370.65,184.01 370.82,181.87 370.99,181.43 371.16,182.07 371.34,181.42 371.51,182.56 371.68,178.22 371.85,183.35 372.02,182.40 372.19,184.93 372.36,182.22 372.53,178.73 372.71,181.95 372.88,182.89 373.05,183.65 373.22,180.48 373.39,182.92 373.56,180.56 373.73,182.91 373.90,182.81 374.08,182.62 374.25,183.81 374.42,180.64 374.59,183.59 374.76,181.34 374.93,181.27 375.10,178.07 375.28,180.51 375.45,180.13 375.62,182.65 375.79,181.22 375.96,181.17 376.13,179.63 376.30,183.59 376.47,181.18 376.65,175.13 376.82,183.11 376.99,184.86 377.16,182.57 377.33,182.05 377.50,179.08 377.67,181.16 377.84,178.99 378.02,182.82 378.19,181.79 378.36,182.45 378.53,183.36 378.70,181.67 378.87,182.24 379.04,182.24 379.22,184.11 379.39,184.40 379.56,179.62 379.73,180.98 379.90,181.97 380.07,177.67 380.24,179.61 380.41,181.17 380.59,182.77 380.76,181.23 380.93,181.34 381.10,182.37 381.27,179.27 381.44,180.91 381.61,181.71 381.78,183.57 381.96,183.28 382.13,180.01 382.30,181.03 382.47,182.65 382.64,181.71 382.81,182.34 382.98,182.06 383.16,182.10 383.33,181.85 383.50,181.01 383.67,182.62 383.84,181.85 384.01,180.72 384.18,184.53 384.35,181.35 384.53,181.87 384.70,183.87 384.87,186.09 385.04,183.59 385.21,181.45 385.38,181.98 385.55,179.72 385.72,181.71 385.90,181.66 386.07,181.00 386.24,182.60 386.41,179.68 386.58,182.70 386.75,183.43 386.92,182.32 387.10,179.92 387.27,182.64 387.44,182.75 387.61,180.71 387.78,180.07 387.95,182.07 388.12,180.46 388.29,182.52 388.47,180.44 388.64,183.17 388.81,182.26 388.98,182.58 389.15,182.99 389.32,181.42 389.49,180.44 389.66,184.16 389.84,178.37 390.01,182.00 390.18,181.36 390.35,182.34 390.52,182.40 390.69,180.38 390.86,183.66 391.03,183.49 391.21,182.69 391.38,183.59 391.55,180.24 391.72,184.08 391.89,179.82 392.06,184.70 392.23,183.33 392.41,181.92 392.58,183.07 392.75,184.84 392.92,184.65 393.09,182.22 393.26,183.65 393.43,180.51 393.60,185.11 393.78,181.22 393.95,179.25 394.12,180.92 394.29,180.32 394.46,182.50 394.63,182.62 394.80,180.77 394.97,182.06 395.15,180.55 395.32,183.84 395.49,181.38 395.66,181.95 395.83,185.87 396.00,181.29 396.17,181.12 396.35,181.93 396.52,181.54 396.69,180.37 396.86,180.85 397.03,183.48 397.20,180.69 397.37,178.98 397.54,183.25 397.72,179.10 397.89,182.13 398.06,183.59 398.23,182.92 398.40,183.31 398.57,180.22 398.74,181.71 398.91,183.05 399.09,181.64 399.26,180.50 399.43,182.14 399.60,183.00 399.77,182.11 399.94,184.43 400.11,181.42 400.29,180.26 400.46,182.03 400.63,183.26 400.80,181.72 400.97,184.06 401.14,179.95 401.31,178.97 401.48,182.17 401.66,185.76 401.83,184.80 402.00,183.92 402.17,185.02 402.34,182.80 402.51,182.64 402.68,183.32 402.85,180.52 403.03,181.26 403.20,183.28 403.37,182.18 403.54,183.89 403.71,182.76 403.88,183.76 404.05,182.59 404.23,182.48 404.40,181.91 404.57,182.96 404.74,180.73 404.91,181.30 405.08,180.66 405.25,183.58 405.42,181.36 405.60,179.41 405.77,182.07 405.94,185.21 406.11,180.16 406.28,182.84 406.45,181.21 406.62,181.07 406.79,181.96 406.97,180.30 407.14,181.65 407.31,180.33 407.48,184.08 407.65,183.60 407.82,182.44 407.99,180.08 408.16,183.70 408.34,182.59 408.51,180.61 408.68,182.09 408.85,183.44 409.02,185.57 409.19,181.36 409.36,184.79 409.54,181.06 409.71,181.43 409.88,184.00 410.05,181.45 410.22,185.14 410.39,182.21 410.56,184.32 410.73,181.89 410.91,183.41 411.08,182.28 411.25,181.29 411.42,183.16 411.59,184.92 411.76,184.04 411.93,180.94 412.10,184.84 412.28,181.32 412.45,181.73 412.62,182.48 412.79,184.35 412.96,185.29 413.13,181.73 413.30,183.72 413.48,184.40 413.65,183.02 413.82,182.33 413.99,185.89 414.16,182.16 414.33,182.62 414.50,181.80 414.67,182.80 414.85,183.17 415.02,184.45 415.19,181.19 415.36,183.35 415.53,180.09 415.70,182.65 415.87,181.00 416.04,182.90 416.22,185.67 416.39,182.10 416.56,184.12 416.73,185.01 416.90,182.01 417.07,180.57 417.24,182.42 417.42,182.57 417.59,182.75 417.76,182.72 417.93,180.94 418.10,180.68 418.27,181.96 418.44,182.12 418.61,186.31 418.79,181.46 418.96,181.65 419.13,182.54 419.30,184.96 419.47,182.78 419.64,182.13 419.81,181.59 419.98,182.93 420.16,184.10 420.33,181.66 420.50,180.18 420.67,184.11 420.84,181.27 421.01,181.18 421.18,180.92 421.36,184.13 421.53,183.63 421.70,182.50 421.87,182.49 422.04,179.28 422.21,184.54 422.38,184.92 422.55,181.81 422.73,179.32 422.90,181.84 423.07,183.32 423.24,182.27 423.41,180.49 423.58,182.70 423.75,181.43 423.92,181.08 424.10,182.66 424.27,180.31 424.44,184.39 424.61,182.61 424.78,182.69 424.95,181.32 425.12,180.72 425.29,183.38 425.47,182.90 425.64,183.21 425.81,184.50 425.98,183.93 426.15,182.21 426.32,181.92 426.49,183.44 426.67,181.94 426.84,181.25 427.01,181.22 427.18,181.81 427.35,183.98 427.52,184.23 427.69,182.55 427.86,182.99 428.04,183.42 428.21,183.02 428.38,183.29 428.55,182.35 428.72,181.52 428.89,183.79 429.06,179.57 429.23,179.67 429.41,183.12 429.58,182.20 429.75,180.06 429.92,183.48 430.09,183.18 430.26,183.38 430.43,184.14 430.61,182.16 430.78,183.92 430.95,183.15 431.12,182.26 431.29,183.95 431.46,180.74 431.63,182.82 431.80,184.12 431.98,186.10 432.15,182.78 432.32,181.88 432.49,184.10 432.66,182.23 432.83,182.58 433.00,182.72 433.17,182.08 433.35,184.71 433.52,180.02 433.69,182.97 433.86,184.05 434.03,181.16 434.20,182.72 434.37,184.04 434.55,181.26 434.72,180.34 434.89,184.28 435.06,182.97 435.23,180.09 435.40,182.67 435.57,181.13 435.74,181.21 435.92,185.43 436.09,181.74 436.26,185.60 436.43,184.39 436.60,184.48 436.77,181.99 436.94,184.70 437.11,182.64 437.29,184.54 437.46,179.75 437.63,183.63 437.80,183.45 437.97,184.50 438.14,181.80 438.31,181.26 438.49,182.12 438.66,184.58 438.83,184.49 439.00,183.49 439.17,180.26 439.34,183.72 439.51,183.03 439.68,181.46 439.86,178.17 440.03,182.25 440.20,183.34 440.37,184.92 440.54,180.46 440.71,181.77 440.88,186.01 441.05,183.19 441.23,183.63 441.40,183.44 441.57,181.60 441.74,181.63 441.91,181.54 442.08,185.87 442.25,181.70 442.42,183.56 442.60,185.17 442.77,180.93 442.94,184.92 443.11,184.82 443.28,180.43 443.45,183.07 443.62,181.08 443.80,181.40 443.97,184.54 444.14,180.97 444.31,183.05 444.48,182.59 444.65,181.13 444.82,181.63 444.99,184.20 445.17,181.84 445.34,183.25 445.51,180.33 445.68,186.39 445.85,180.92 446.02,184.27 446.19,179.29 446.36,182.47 446.54,179.89 446.71,182.87 446.88,180.54 447.05,182.22 447.22,182.38 447.39,182.37 447.56,186.91 447.74,185.93 447.91,185.14 448.08,182.88 448.25,184.21 448.42,181.88 448.59,182.99 448.76,181.32 448.93,183.96 449.11,183.70 449.28,183.70 449.45,185.10 449.62,186.66 449.79,184.06 449.96,183.44 450.13,184.15 450.30,185.00 450.48,184.64 450.65,180.98 450.82,182.17 450.99,185.27 451.16,184.43 451.33,183.21 451.50,185.06 451.68,181.65 451.85,185.83 452.02,182.65 452.19,184.57 452.36,186.34 452.53,178.13 452.70,184.10 452.87,186.43 453.05,184.29 453.22,184.70 453.39,182.12 453.56,182.70 453.73,185.81 453.90,181.48 454.07,183.53 454.24,185.66 454.42,181.59 454.59,182.30 454.76,184.53 454.93,185.88 455.10,183.73 455.27,185.47 455.44,182.25 455.62,183.07 455.79,185.13 455.96,184.57 456.13,183.72 456.30,181.97 456.47,184.68 456.64,182.18 456.81,184.69 456.99,182.74 457.16,184.45 457.33,182.70 457.50,184.56 457.67,184.56 457.84,180.00 458.01,182.54 458.18,185.11 458.36,182.15 458.53,183.74 458.70,180.97 458.87,185.49 459.04,184.77 459.21,183.82 459.38,184.89 459.55,186.02 459.73,179.44 459.90,183.77 460.07,184.69 460.24,185.72 460.41,181.75 460.58,182.55 460.75,185.15 460.93,185.00 461.10,181.70 461.27,182.92 461.44,185.50 461.61,181.36 461.78,181.76 461.95,185.42 462.12,185.06 462.30,182.88 462.47,182.08 462.64,183.96 462.81,181.90 462.98,185.11 463.15,178.59 463.32,185.05 463.49,183.63 463.67,183.83 463.84,183.13 464.01,183.00 464.18,181.00 464.35,186.81 464.52,183.76 464.69,182.14 464.87,181.05 465.04,184.65 465.21,182.05 465.38,184.33 465.55,184.38 465.72,185.38 465.89,182.55 466.06,181.05 466.24,181.48 466.41,184.95 466.58,183.45 466.75,181.94 466.92,178.87 467.09,183.84 467.26,183.94 467.43,183.69 467.61,185.64 467.78,187.80 467.95,182.46 468.12,182.03 468.29,181.70 468.46,181.55 468.63,182.44 468.81,184.16 468.98,182.89 469.15,185.20 469.32,186.83 469.49,183.99 469.66,186.02 469.83,185.29 470.00,184.32 470.18,184.70 470.35,183.13 470.52,185.74 470.69,184.80 470.86,184.85 471.03,183.65 471.20,182.19 471.37,183.13 471.55,183.51 471.72,184.05 471.89,182.56 472.06,184.22 472.23,183.28 472.40,185.17 472.57,182.41 472.75,182.73 472.92,184.69 473.09,181.74 473.26,185.50 473.43,182.22 473.60,180.18 473.77,183.09 473.94,184.70 474.12,183.12 474.29,184.73 474.46,185.01 474.63,182.06 474.80,187.40 474.97,182.20 475.14,184.17 475.31,182.39 475.49,184.34 475.66,181.27 475.83,185.46 476.00,187.25 476.17,179.15 476.34,183.84 476.51,183.58 476.68,184.52 476.86,184.50 477.03,184.23 477.20,184.81 477.37,180.99 477.54,185.76 477.71,182.63 477.88,181.96 478.06,184.24 478.23,182.29 478.40,184.60 478.57,184.29 478.74,184.89 478.91,181.72 479.08,182.94 479.25,186.36 479.43,181.91 479.60,185.60 479.77,183.35 479.94,182.47 480.11,187.11 480.28,183.23 480.45,184.43 480.62,186.42 480.80,182.87 480.97,184.54 481.14,183.82 481.31,184.59 481.48,185.13 481.65,186.45 481.82,184.76 482.00,186.65 482.17,184.26 482.34,182.85 482.51,183.28 482.68,183.83 482.85,184.43 483.02,184.48 483.19,182.64 483.37,182.55 483.54,184.66 483.71,184.54 483.88,186.73 484.05,185.70 484.22,184.80 484.39,181.44 484.56,181.57 484.74,186.87 484.91,183.30 485.08,185.30 485.25,186.51 485.42,183.32 485.59,185.26 485.76,182.43 485.94,183.32 486.11,185.73 486.28,182.17 486.45,183.61 486.62,185.79 486.79,187.13 486.96,180.67 487.13,185.14 487.31,183.47 487.48,183.77 487.65,183.64 487.82,186.93 487.99,187.79 488.16,184.45 488.33,186.45 488.50,185.59 488.68,181.33 488.85,185.09 489.02,183.22 489.19,185.86 489.36,179.51 489.53,184.93 489.70,182.65 489.88,184.58 490.05,185.68 490.22,182.66 490.39,184.95 490.56,186.11 490.73,185.10 490.90,184.83 491.07,185.33 491.25,183.48 491.42,186.60 491.59,185.13 491.76,181.62 491.93,184.92 492.10,182.41 492.27,185.40 492.44,183.81 492.62,184.94 492.79,187.70 492.96,186.09 493.13,183.25 493.30,181.80 493.47,183.12 493.64,187.43 493.81,185.29 493.99,186.79 494.16,184.25 494.33,183.97 494.50,183.21 494.67,185.39 494.84,185.17 495.01,183.69 495.19,184.85 495.36,186.78 495.53,184.01 495.70,187.16 495.87,185.91 496.04,188.80 496.21,184.73 496.38,184.68 496.56,186.75 496.73,182.94 496.90,182.99 497.07,182.15 497.24,185.44 497.41,186.53 497.58,184.82 497.75,183.08 497.93,181.66 498.10,184.86 498.27,185.47 498.44,188.01 498.61,184.14 498.78,183.90 498.95,183.04 499.13,181.93 499.30,183.79 499.47,185.65 499.64,185.72 499.81,183.09 499.98,182.23 500.15,186.07 500.32,185.66 500.50,184.36 500.67,185.52 500.84,184.57 501.01,185.27 501.18,185.28 501.35,184.90 501.52,184.37 501.69,183.75 501.87,186.83 502.04,186.74 502.21,187.07 502.38,184.38 502.55,184.35 502.72,184.23 502.89,184.47 503.07,184.61 503.24,187.77 503.41,185.27 503.58,183.43 503.75,187.18 503.92,186.75 504.09,185.44 504.26,183.99 504.44,185.84 504.61,187.70 504.78,184.97 504.95,185.56 505.12,183.34 505.29,185.66 505.46,185.02 505.63,185.72 505.81,185.69 505.98,181.25 506.15,189.05 506.32,184.20 506.49,186.73 506.66,185.57 506.83,187.13 507.01,184.56 507.18,186.79 507.35,184.39 507.52,182.77 507.69,187.20 507.86,187.63 508.03,183.31 508.20,182.08 508.38,185.44 508.55,188.49 508.72,187.21 508.89,183.28 509.06,181.63 509.23,185.08 509.40,186.54 509.57,182.55 509.75,186.40 509.92,186.20 510.09,185.67 510.26,185.98 510.43,184.37 510.60,186.86 510.77,184.96 510.94,183.26 511.12,183.12 511.29,183.28 511.46,186.17 511.63,187.95 511.80,185.01 511.97,184.95 512.14,184.14 512.32,185.24 512.49,185.59 512.66,186.96 512.83,184.18 513.00,181.64 513.17,182.93 513.34,185.06 513.51,184.82 513.69,185.24" fill="none" stroke="#efa030" stroke-width="0.6" stroke-linejoin="round"/>
<line x1="354.80" y1="212.60" x2="354.80" y2="219.00" stroke="#000" stroke-width="1.0" />
<polygon points="352.9,217.6 356.7,217.6 354.8,221.2" fill="#000"/>
<rect x="342.5" y="168.3" width="170.3" height="63.2" fill="none" stroke="#111" stroke-width="1.0"/>
<line x1="341.20" y1="227.90" x2="342.50" y2="227.90" stroke="#333" stroke-width="0.7" />
<line x1="341.20" y1="225.62" x2="342.50" y2="225.62" stroke="#333" stroke-width="0.7" />
<line x1="341.20" y1="223.34" x2="342.50" y2="223.34" stroke="#333" stroke-width="0.7" />
<line x1="341.20" y1="221.06" x2="342.50" y2="221.06" stroke="#333" stroke-width="0.7" />
<line x1="341.20" y1="218.78" x2="342.50" y2="218.78" stroke="#333" stroke-width="0.7" />
<line x1="341.20" y1="216.50" x2="342.50" y2="216.50" stroke="#333" stroke-width="0.7" />
<line x1="341.20" y1="214.22" x2="342.50" y2="214.22" stroke="#333" stroke-width="0.7" />
<line x1="341.20" y1="211.94" x2="342.50" y2="211.94" stroke="#333" stroke-width="0.7" />
<line x1="341.20" y1="209.66" x2="342.50" y2="209.66" stroke="#333" stroke-width="0.7" />
<line x1="341.20" y1="207.38" x2="342.50" y2="207.38" stroke="#333" stroke-width="0.7" />
<line x1="341.20" y1="205.10" x2="342.50" y2="205.10" stroke="#333" stroke-width="0.7" />
<line x1="341.20" y1="202.82" x2="342.50" y2="202.82" stroke="#333" stroke-width="0.7" />
<line x1="341.20" y1="200.54" x2="342.50" y2="200.54" stroke="#333" stroke-width="0.7" />
<line x1="341.20" y1="198.26" x2="342.50" y2="198.26" stroke="#333" stroke-width="0.7" />
<line x1="341.20" y1="195.98" x2="342.50" y2="195.98" stroke="#333" stroke-width="0.7" />
<line x1="341.20" y1="193.70" x2="342.50" y2="193.70" stroke="#333" stroke-width="0.7" />
<line x1="341.20" y1="191.42" x2="342.50" y2="191.42" stroke="#333" stroke-width="0.7" />
<line x1="341.20" y1="189.14" x2="342.50" y2="189.14" stroke="#333" stroke-width="0.7" />
<line x1="341.20" y1="186.86" x2="342.50" y2="186.86" stroke="#333" stroke-width="0.7" />
<line x1="341.20" y1="184.58" x2="342.50" y2="184.58" stroke="#333" stroke-width="0.7" />
<line x1="341.20" y1="182.30" x2="342.50" y2="182.30" stroke="#333" stroke-width="0.7" />
<line x1="341.20" y1="180.02" x2="342.50" y2="180.02" stroke="#333" stroke-width="0.7" />
<line x1="341.20" y1="177.74" x2="342.50" y2="177.74" stroke="#333" stroke-width="0.7" />
<line x1="341.20" y1="175.46" x2="342.50" y2="175.46" stroke="#333" stroke-width="0.7" />
<line x1="341.20" y1="173.18" x2="342.50" y2="173.18" stroke="#333" stroke-width="0.7" />
<line x1="341.20" y1="170.90" x2="342.50" y2="170.90" stroke="#333" stroke-width="0.7" />
<line x1="340.30" y1="227.90" x2="342.50" y2="227.90" stroke="#000" stroke-width="0.9" />
<text x="340.60" y="230.00" font-size="6.2" text-anchor="end" font-weight="normal" fill="#000" >0</text>
<line x1="340.30" y1="216.50" x2="342.50" y2="216.50" stroke="#000" stroke-width="0.9" />
<text x="340.60" y="218.60" font-size="6.2" text-anchor="end" font-weight="normal" fill="#000" >20</text>
<line x1="340.30" y1="205.10" x2="342.50" y2="205.10" stroke="#000" stroke-width="0.9" />
<text x="340.60" y="207.20" font-size="6.2" text-anchor="end" font-weight="normal" fill="#000" >40</text>
<line x1="340.30" y1="193.70" x2="342.50" y2="193.70" stroke="#000" stroke-width="0.9" />
<text x="340.60" y="195.80" font-size="6.2" text-anchor="end" font-weight="normal" fill="#000" >60</text>
<line x1="340.30" y1="182.30" x2="342.50" y2="182.30" stroke="#000" stroke-width="0.9" />
<text x="340.60" y="184.40" font-size="6.2" text-anchor="end" font-weight="normal" fill="#000" >80</text>
<line x1="340.30" y1="170.90" x2="342.50" y2="170.90" stroke="#000" stroke-width="0.9" />
<text x="340.60" y="173.00" font-size="6.2" text-anchor="end" font-weight="normal" fill="#000" >100</text>
<line x1="342.50" y1="231.50" x2="342.50" y2="233.70" stroke="#000" stroke-width="0.8" />
<text x="342.50" y="239.80" font-size="6.9" text-anchor="middle" font-weight="normal" fill="#000" >0</text>
<line x1="356.77" y1="231.50" x2="356.77" y2="232.90" stroke="#000" stroke-width="0.8" />
<line x1="371.05" y1="231.50" x2="371.05" y2="232.90" stroke="#000" stroke-width="0.8" />
<line x1="385.32" y1="231.50" x2="385.32" y2="232.90" stroke="#000" stroke-width="0.8" />
<line x1="399.60" y1="231.50" x2="399.60" y2="233.70" stroke="#000" stroke-width="0.8" />
<text x="399.60" y="239.80" font-size="6.9" text-anchor="middle" font-weight="normal" fill="#000" >200</text>
<line x1="413.88" y1="231.50" x2="413.88" y2="232.90" stroke="#000" stroke-width="0.8" />
<line x1="428.15" y1="231.50" x2="428.15" y2="232.90" stroke="#000" stroke-width="0.8" />
<line x1="442.43" y1="231.50" x2="442.43" y2="232.90" stroke="#000" stroke-width="0.8" />
<line x1="456.70" y1="231.50" x2="456.70" y2="233.70" stroke="#000" stroke-width="0.8" />
<text x="456.70" y="239.80" font-size="6.9" text-anchor="middle" font-weight="normal" fill="#000" >400</text>
<line x1="470.98" y1="231.50" x2="470.98" y2="232.90" stroke="#000" stroke-width="0.8" />
<line x1="485.25" y1="231.50" x2="485.25" y2="232.90" stroke="#000" stroke-width="0.8" />
<line x1="499.52" y1="231.50" x2="499.52" y2="232.90" stroke="#000" stroke-width="0.8" />
<line x1="513.80" y1="231.50" x2="513.80" y2="233.70" stroke="#000" stroke-width="0.8" />
<text x="513.80" y="239.80" font-size="6.9" text-anchor="middle" font-weight="normal" fill="#000" >600</text>
<text x="412.30" y="248.20" font-size="8.1" text-anchor="start" font-weight="normal" fill="#000" >Time (s)</text>
<text x="0" y="0" font-size="8.7" text-anchor="middle" font-weight="normal" transform="translate(326.00,200.00) rotate(-90)">Cells in flux (%)</text>
</svg></body></html>
